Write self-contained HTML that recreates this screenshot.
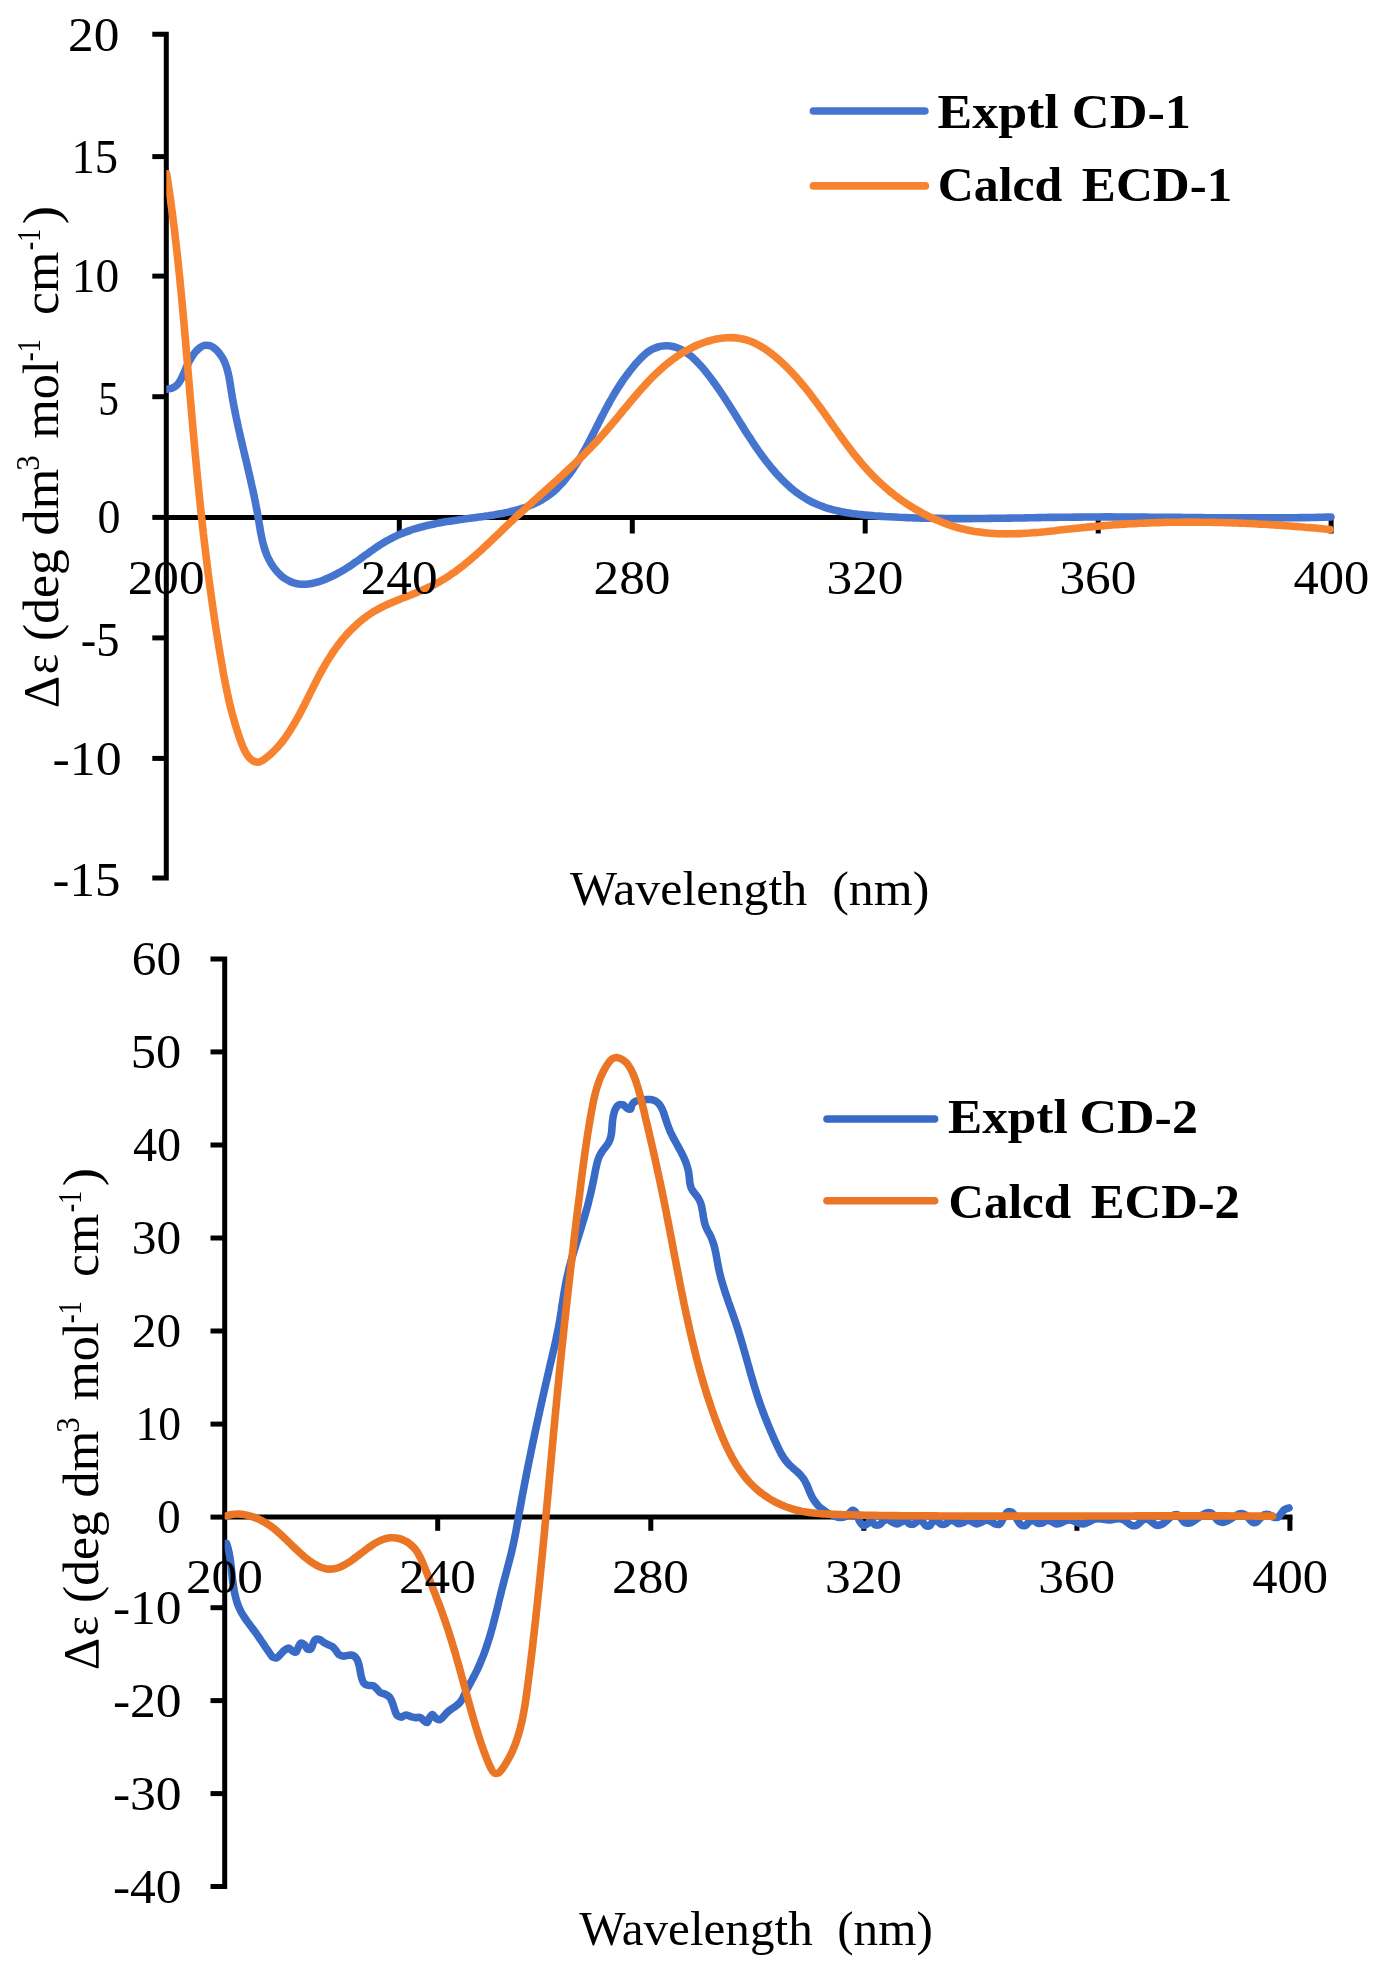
<!DOCTYPE html>
<html><head><meta charset="utf-8"><title>CD spectra</title>
<style>
html,body{margin:0;padding:0;background:#fff;}
body{width:1383px;height:1975px;overflow:hidden;}
svg{display:block;will-change:transform;}
text{font-family:"Liberation Serif", serif;fill:#000;}
</style></head><body>
<svg width="1383" height="1975" viewBox="0 0 1383 1975">
<rect width="1383" height="1975" fill="#fff"/>
<g>
<path d="M152.3,34.3 H166.3 V877.9 H152.3" fill="none" stroke="#000" stroke-width="5"/>
<line x1="152.3" y1="156.6" x2="166.3" y2="156.6" stroke="#000" stroke-width="5"/>
<line x1="152.3" y1="276.1" x2="166.3" y2="276.1" stroke="#000" stroke-width="5"/>
<line x1="152.3" y1="396.7" x2="166.3" y2="396.7" stroke="#000" stroke-width="5"/>
<line x1="152.3" y1="517.4" x2="166.3" y2="517.4" stroke="#000" stroke-width="5"/>
<line x1="152.3" y1="637.9" x2="166.3" y2="637.9" stroke="#000" stroke-width="5"/>
<line x1="152.3" y1="758.4" x2="166.3" y2="758.4" stroke="#000" stroke-width="5"/>
<line x1="166.3" y1="517.4" x2="1333.5" y2="517.4" stroke="#000" stroke-width="5"/>
<line x1="399.3" y1="517.4" x2="399.3" y2="533.5" stroke="#000" stroke-width="5"/>
<line x1="632.3" y1="517.4" x2="632.3" y2="533.5" stroke="#000" stroke-width="5"/>
<line x1="865.2" y1="517.4" x2="865.2" y2="533.5" stroke="#000" stroke-width="5"/>
<line x1="1098.2" y1="517.4" x2="1098.2" y2="533.5" stroke="#000" stroke-width="5"/>
<line x1="1331.1" y1="517.4" x2="1331.1" y2="533.5" stroke="#000" stroke-width="5"/>
<clipPath id="clip166"><rect x="166.30" y="0" width="1216.70" height="1975"/></clipPath>
<g clip-path="url(#clip166)">
<path d="M166.6,389.2 C167.4,389.0 169.9,388.9 171.5,388.3 C173.1,387.8 174.6,386.9 175.9,385.9 C177.2,384.9 178.3,383.6 179.2,382.2 C180.2,380.9 181.0,379.4 181.7,377.9 C182.5,376.4 183.1,374.8 183.8,373.3 C184.5,371.8 185.1,370.2 185.8,368.7 C186.4,367.1 187.1,365.6 187.9,364.1 C188.6,362.6 189.4,361.1 190.2,359.7 C191.1,358.2 191.9,356.8 192.9,355.4 C193.8,354.0 194.8,352.7 195.9,351.4 C197.0,350.2 198.2,348.9 199.5,347.9 C200.9,347.0 202.4,346.0 203.9,345.5 C205.5,345.1 207.3,345.1 208.9,345.4 C210.5,345.8 212.0,346.7 213.4,347.5 C214.8,348.4 216.1,349.6 217.2,350.8 C218.4,352.0 219.4,353.3 220.4,354.7 C221.4,356.0 222.3,357.5 223.1,358.9 C223.9,360.4 224.6,361.9 225.2,363.5 C225.8,365.0 226.4,366.6 226.8,368.2 C227.3,369.8 227.8,371.4 228.1,373.1 C228.5,374.7 228.9,376.3 229.2,378.0 C229.5,379.6 229.8,381.3 230.0,382.9 C230.3,384.6 230.5,386.2 230.8,387.9 C231.1,389.5 231.3,391.2 231.6,392.8 C231.9,394.5 232.1,396.1 232.4,397.8 C232.7,399.4 233.0,401.1 233.3,402.7 C233.6,404.4 233.9,406.0 234.2,407.7 C234.6,409.3 234.9,411.0 235.2,412.6 C235.5,414.2 235.9,415.9 236.2,417.5 C236.6,419.2 236.9,420.8 237.3,422.4 C237.6,424.1 238.0,425.7 238.3,427.3 C238.7,429.0 239.1,430.6 239.4,432.2 C239.8,433.9 240.2,435.5 240.5,437.1 C240.9,438.8 241.3,440.4 241.7,442.0 C242.1,443.7 242.4,445.3 242.8,446.9 C243.2,448.5 243.6,450.2 244.0,451.8 C244.4,453.4 244.7,455.1 245.1,456.7 C245.5,458.3 245.9,459.9 246.3,461.6 C246.7,463.2 247.1,464.8 247.5,466.5 C247.8,468.1 248.2,469.7 248.6,471.3 C249.0,473.0 249.4,474.6 249.7,476.2 C250.1,477.9 250.5,479.5 250.8,481.1 C251.2,482.8 251.6,484.4 251.9,486.0 C252.3,487.7 252.7,489.3 253.0,490.9 C253.4,492.6 253.7,494.2 254.1,495.9 C254.4,497.5 254.7,499.1 255.1,500.8 C255.4,502.4 255.7,504.1 256.0,505.7 C256.3,507.3 256.7,509.0 257.0,510.6 C257.3,512.3 257.6,513.9 257.8,515.6 C258.1,517.2 258.4,518.9 258.7,520.5 C259.0,522.2 259.2,523.8 259.5,525.5 C259.8,527.1 260.1,528.8 260.3,530.4 C260.6,532.1 260.9,533.7 261.3,535.4 C261.6,537.0 261.9,538.6 262.3,540.3 C262.7,541.9 263.1,543.5 263.5,545.1 C264.0,546.8 264.5,548.4 265.0,550.0 C265.5,551.5 266.1,553.1 266.7,554.7 C267.4,556.2 268.0,557.7 268.8,559.2 C269.5,560.7 270.3,562.2 271.2,563.6 C272.1,565.1 273.0,566.5 274.0,567.8 C275.0,569.1 276.1,570.5 277.2,571.7 C278.3,572.9 279.5,574.1 280.7,575.3 C282.0,576.4 283.3,577.4 284.6,578.4 C286.0,579.3 287.5,580.2 289.0,580.9 C290.4,581.7 292.0,582.3 293.6,582.8 C295.2,583.3 296.9,583.7 298.5,583.9 C300.2,584.1 301.8,584.2 303.5,584.2 C305.2,584.2 306.9,584.1 308.5,583.9 C310.2,583.7 311.8,583.4 313.5,583.1 C315.1,582.7 316.7,582.3 318.3,581.8 C319.9,581.3 321.5,580.8 323.1,580.2 C324.7,579.6 326.2,579.0 327.7,578.3 C329.3,577.7 330.8,577.0 332.3,576.2 C333.8,575.5 335.3,574.7 336.8,573.9 C338.2,573.1 339.7,572.3 341.1,571.5 C342.6,570.6 344.0,569.8 345.5,568.9 C346.9,568.0 348.3,567.1 349.7,566.2 C351.1,565.3 352.5,564.3 353.8,563.4 C355.2,562.4 356.6,561.5 358.0,560.5 C359.3,559.5 360.7,558.6 362.0,557.6 C363.4,556.6 364.8,555.6 366.1,554.6 C367.5,553.7 368.8,552.7 370.2,551.7 C371.6,550.7 372.9,549.8 374.3,548.8 C375.7,547.9 377.0,546.9 378.4,546.0 C379.8,545.1 381.2,544.2 382.7,543.3 C384.1,542.4 385.5,541.5 387.0,540.7 C388.4,539.9 389.9,539.1 391.4,538.3 C392.9,537.5 394.4,536.8 395.9,536.1 C397.4,535.4 398.9,534.7 400.5,534.0 C402.0,533.4 403.6,532.8 405.1,532.2 C406.7,531.6 408.3,531.0 409.9,530.5 C411.4,529.9 413.0,529.4 414.6,528.9 C416.2,528.4 417.8,528.0 419.5,527.5 C421.1,527.1 422.7,526.6 424.3,526.2 C425.9,525.8 427.6,525.4 429.2,525.1 C430.8,524.7 432.5,524.3 434.1,524.0 C435.7,523.6 437.4,523.3 439.0,523.0 C440.7,522.7 442.3,522.4 444.0,522.1 C445.6,521.8 447.3,521.5 448.9,521.3 C450.6,521.0 452.2,520.8 453.9,520.5 C455.5,520.3 457.2,520.0 458.8,519.8 C460.5,519.5 462.2,519.3 463.8,519.1 C465.5,518.8 467.1,518.6 468.8,518.4 C470.4,518.2 472.1,518.0 473.8,517.7 C475.4,517.5 477.1,517.3 478.7,517.1 C480.4,516.9 482.1,516.6 483.7,516.4 C485.4,516.2 487.0,515.9 488.7,515.7 C490.3,515.4 492.0,515.2 493.7,514.9 C495.3,514.7 497.0,514.4 498.6,514.1 C500.3,513.8 501.9,513.5 503.5,513.2 C505.2,512.8 506.8,512.5 508.5,512.1 C510.1,511.8 511.7,511.4 513.3,511.0 C515.0,510.6 516.6,510.1 518.2,509.7 C519.8,509.2 521.4,508.7 523.0,508.2 C524.6,507.7 526.2,507.1 527.7,506.5 C529.3,505.9 530.8,505.3 532.4,504.6 C533.9,504.0 535.4,503.3 536.9,502.5 C538.4,501.8 539.9,501.0 541.4,500.2 C542.8,499.3 544.2,498.5 545.6,497.5 C547.0,496.6 548.4,495.6 549.7,494.6 C551.1,493.6 552.4,492.5 553.6,491.5 C554.9,490.4 556.1,489.2 557.3,488.1 C558.5,486.9 559.7,485.7 560.8,484.5 C562.0,483.2 563.1,482.0 564.2,480.7 C565.2,479.4 566.3,478.1 567.3,476.8 C568.4,475.5 569.4,474.2 570.4,472.8 C571.3,471.5 572.3,470.1 573.3,468.7 C574.2,467.3 575.1,465.9 576.0,464.5 C576.9,463.1 577.8,461.7 578.7,460.3 C579.6,458.8 580.4,457.4 581.3,456.0 C582.1,454.5 582.9,453.1 583.7,451.6 C584.6,450.1 585.4,448.7 586.2,447.2 C587.0,445.7 587.8,444.3 588.5,442.8 C589.3,441.3 590.1,439.8 590.9,438.3 C591.6,436.8 592.4,435.3 593.1,433.8 C593.9,432.4 594.7,430.9 595.4,429.4 C596.2,427.9 596.9,426.4 597.7,424.9 C598.4,423.4 599.2,421.9 599.9,420.4 C600.7,418.9 601.5,417.4 602.2,415.9 C603.0,414.4 603.8,413.0 604.5,411.5 C605.3,410.0 606.1,408.5 606.9,407.0 C607.7,405.6 608.5,404.1 609.3,402.6 C610.1,401.2 610.9,399.7 611.8,398.3 C612.6,396.8 613.4,395.4 614.3,393.9 C615.1,392.5 616.0,391.0 616.9,389.6 C617.8,388.2 618.7,386.8 619.6,385.4 C620.5,384.0 621.4,382.6 622.4,381.2 C623.3,379.8 624.3,378.5 625.3,377.1 C626.3,375.8 627.3,374.4 628.3,373.1 C629.3,371.7 630.3,370.4 631.4,369.1 C632.4,367.8 633.5,366.5 634.5,365.2 C635.6,364.0 636.7,362.7 637.8,361.5 C639.0,360.2 640.1,359.0 641.3,357.8 C642.5,356.6 643.7,355.4 644.9,354.4 C646.2,353.3 647.5,352.2 648.9,351.3 C650.3,350.4 651.7,349.5 653.3,348.8 C654.8,348.1 656.3,347.5 657.9,347.0 C659.5,346.5 661.2,346.2 662.9,346.0 C664.5,345.8 666.2,345.7 667.9,345.8 C669.5,345.9 671.2,346.2 672.8,346.5 C674.5,346.9 676.1,347.4 677.6,348.0 C679.2,348.6 680.7,349.3 682.2,350.1 C683.6,350.9 685.1,351.8 686.5,352.7 C687.8,353.7 689.2,354.7 690.5,355.7 C691.8,356.8 693.0,357.9 694.2,359.1 C695.5,360.2 696.7,361.4 697.8,362.6 C699.0,363.8 700.1,365.0 701.2,366.3 C702.3,367.5 703.4,368.8 704.5,370.1 C705.5,371.4 706.6,372.7 707.6,374.0 C708.6,375.3 709.7,376.7 710.7,378.0 C711.7,379.3 712.7,380.7 713.6,382.1 C714.6,383.4 715.6,384.8 716.6,386.1 C717.5,387.5 718.5,388.9 719.4,390.3 C720.4,391.6 721.3,393.0 722.2,394.4 C723.2,395.8 724.1,397.2 725.0,398.6 C725.9,400.0 726.8,401.4 727.7,402.8 C728.6,404.2 729.5,405.6 730.4,407.0 C731.3,408.5 732.2,409.9 733.1,411.3 C734.0,412.7 734.9,414.1 735.8,415.6 C736.7,417.0 737.5,418.4 738.4,419.8 C739.3,421.2 740.2,422.7 741.1,424.1 C742.0,425.5 742.9,426.9 743.7,428.3 C744.6,429.8 745.5,431.2 746.4,432.6 C747.3,434.0 748.2,435.4 749.1,436.8 C750.1,438.2 751.0,439.6 751.9,441.0 C752.8,442.4 753.7,443.8 754.7,445.2 C755.6,446.6 756.6,448.0 757.5,449.3 C758.5,450.7 759.4,452.1 760.4,453.4 C761.4,454.8 762.4,456.1 763.4,457.5 C764.4,458.8 765.4,460.2 766.4,461.5 C767.4,462.8 768.5,464.1 769.5,465.4 C770.6,466.7 771.6,468.0 772.7,469.3 C773.8,470.6 774.9,471.9 776.0,473.1 C777.1,474.4 778.2,475.6 779.4,476.8 C780.5,478.0 781.7,479.2 782.8,480.4 C784.0,481.6 785.2,482.8 786.5,483.9 C787.7,485.1 788.9,486.2 790.2,487.3 C791.5,488.4 792.7,489.5 794.0,490.5 C795.4,491.5 796.7,492.6 798.0,493.5 C799.4,494.5 800.8,495.5 802.2,496.4 C803.6,497.3 805.0,498.2 806.4,499.0 C807.9,499.9 809.4,500.7 810.8,501.5 C812.3,502.2 813.8,502.9 815.4,503.6 C816.9,504.3 818.4,504.9 820.0,505.5 C821.6,506.1 823.1,506.7 824.7,507.3 C826.3,507.8 827.9,508.3 829.5,508.8 C831.1,509.2 832.7,509.7 834.4,510.1 C836.0,510.5 837.6,510.8 839.3,511.2 C840.9,511.6 842.5,511.9 844.2,512.2 C845.8,512.5 847.5,512.8 849.1,513.0 C850.8,513.3 852.4,513.5 854.1,513.8 C855.8,514.0 857.4,514.2 859.1,514.4 C860.7,514.6 862.4,514.7 864.1,514.9 C865.7,515.1 867.4,515.2 869.1,515.4 C870.7,515.5 872.4,515.6 874.1,515.8 C875.7,515.9 877.4,516.0 879.1,516.1 C880.8,516.2 882.4,516.3 884.1,516.5 C885.8,516.6 887.4,516.7 889.1,516.7 C890.8,516.8 892.5,516.9 894.1,517.0 C895.8,517.1 897.5,517.2 899.1,517.3 C900.8,517.3 902.5,517.4 904.2,517.5 C905.8,517.6 907.5,517.6 909.2,517.7 C910.8,517.8 912.5,517.8 914.2,517.9 C915.9,517.9 917.5,518.0 919.2,518.0 C920.9,518.1 922.6,518.1 924.2,518.2 C925.9,518.2 927.6,518.2 929.2,518.3 C930.9,518.3 932.6,518.3 934.3,518.4 C935.9,518.4 937.6,518.4 939.3,518.4 C941.0,518.5 942.6,518.5 944.3,518.5 C946.0,518.5 947.7,518.5 949.3,518.5 C951.0,518.6 952.7,518.6 954.4,518.6 C956.0,518.6 957.7,518.6 959.4,518.6 C961.0,518.6 962.7,518.6 964.4,518.6 C966.1,518.6 967.7,518.6 969.4,518.6 C971.1,518.6 972.8,518.6 974.4,518.5 C976.1,518.5 977.8,518.5 979.5,518.5 C981.1,518.5 982.8,518.5 984.5,518.5 C986.2,518.4 987.8,518.4 989.5,518.4 C991.2,518.4 992.8,518.4 994.5,518.3 C996.2,518.3 997.9,518.3 999.5,518.3 C1001.2,518.3 1002.9,518.2 1004.6,518.2 C1006.2,518.2 1007.9,518.2 1009.6,518.1 C1011.3,518.1 1012.9,518.1 1014.6,518.0 C1016.3,518.0 1017.9,518.0 1019.6,518.0 C1021.3,517.9 1023.0,517.9 1024.6,517.9 C1026.3,517.8 1028.0,517.8 1029.7,517.8 C1031.3,517.8 1033.0,517.7 1034.7,517.7 C1036.4,517.7 1038.0,517.6 1039.7,517.6 C1041.4,517.6 1043.0,517.5 1044.7,517.5 C1046.4,517.5 1048.1,517.5 1049.7,517.4 C1051.4,517.4 1053.1,517.4 1054.8,517.4 C1056.4,517.3 1058.1,517.3 1059.8,517.3 C1061.5,517.3 1063.1,517.2 1064.8,517.2 C1066.5,517.2 1068.2,517.2 1069.8,517.2 C1071.5,517.1 1073.2,517.1 1074.8,517.1 C1076.5,517.1 1078.2,517.1 1079.9,517.1 C1081.5,517.0 1083.2,517.0 1084.9,517.0 C1086.6,517.0 1088.2,517.0 1089.9,517.0 C1091.6,517.0 1093.3,517.0 1094.9,517.0 C1096.6,517.0 1098.3,517.0 1100.0,517.0 C1101.6,516.9 1103.3,516.9 1105.0,516.9 C1106.6,516.9 1108.3,516.9 1110.0,516.9 C1111.7,517.0 1113.3,517.0 1115.0,517.0 C1116.7,517.0 1118.4,517.0 1120.0,517.0 C1121.7,517.0 1123.4,517.0 1125.1,517.0 C1126.7,517.0 1128.4,517.0 1130.1,517.0 C1131.8,517.0 1133.4,517.0 1135.1,517.0 C1136.8,517.1 1138.4,517.1 1140.1,517.1 C1141.8,517.1 1143.5,517.1 1145.1,517.1 C1146.8,517.1 1148.5,517.1 1150.2,517.2 C1151.8,517.2 1153.5,517.2 1155.2,517.2 C1156.9,517.2 1158.5,517.2 1160.2,517.2 C1161.9,517.3 1163.6,517.3 1165.2,517.3 C1166.9,517.3 1168.6,517.3 1170.2,517.3 C1171.9,517.3 1173.6,517.4 1175.3,517.4 C1176.9,517.4 1178.6,517.4 1180.3,517.4 C1182.0,517.4 1183.6,517.5 1185.3,517.5 C1187.0,517.5 1188.7,517.5 1190.3,517.5 C1192.0,517.5 1193.7,517.6 1195.4,517.6 C1197.0,517.6 1198.7,517.6 1200.4,517.6 C1202.0,517.6 1203.7,517.7 1205.4,517.7 C1207.1,517.7 1208.7,517.7 1210.4,517.7 C1212.1,517.7 1213.8,517.7 1215.4,517.8 C1217.1,517.8 1218.8,517.8 1220.5,517.8 C1222.1,517.8 1223.8,517.8 1225.5,517.8 C1227.2,517.8 1228.8,517.9 1230.5,517.9 C1232.2,517.9 1233.8,517.9 1235.5,517.9 C1237.2,517.9 1238.9,517.9 1240.5,517.9 C1242.2,517.9 1243.9,517.9 1245.6,517.9 C1247.2,517.9 1248.9,517.9 1250.6,517.9 C1252.3,517.9 1253.9,517.9 1255.6,517.9 C1257.3,517.9 1259.0,517.9 1260.6,517.9 C1262.3,517.9 1264.0,517.9 1265.6,517.9 C1267.3,517.9 1269.0,517.9 1270.7,517.9 C1272.3,517.9 1274.0,517.9 1275.7,517.9 C1277.4,517.9 1279.0,517.9 1280.7,517.9 C1282.4,517.8 1284.1,517.8 1285.7,517.8 C1287.4,517.8 1289.1,517.8 1290.8,517.8 C1292.4,517.8 1294.1,517.7 1295.8,517.7 C1297.4,517.7 1299.1,517.7 1300.8,517.6 C1302.5,517.6 1304.1,517.6 1305.8,517.6 C1307.5,517.5 1309.2,517.5 1310.8,517.5 C1312.5,517.4 1314.2,517.4 1315.9,517.4 C1317.5,517.3 1319.2,517.3 1320.9,517.3 C1322.5,517.2 1324.2,517.2 1325.9,517.1 C1327.6,517.1 1330.1,517.0 1330.9,517.0" fill="none" stroke="#4575CF" stroke-width="7.6" stroke-linecap="round" stroke-linejoin="round"/>
<path d="M166.7,173.9 C166.8,174.7 167.2,177.2 167.5,178.8 C167.7,180.5 168.0,182.1 168.2,183.8 C168.5,185.4 168.7,187.1 168.9,188.8 C169.2,190.4 169.4,192.1 169.7,193.7 C169.9,195.4 170.1,197.0 170.4,198.7 C170.6,200.3 170.8,202.0 171.0,203.7 C171.3,205.3 171.5,207.0 171.7,208.6 C171.9,210.3 172.2,211.9 172.4,213.6 C172.6,215.3 172.8,216.9 173.0,218.6 C173.2,220.2 173.4,221.9 173.6,223.6 C173.8,225.2 174.1,226.9 174.3,228.5 C174.5,230.2 174.7,231.9 174.9,233.5 C175.1,235.2 175.2,236.8 175.4,238.5 C175.6,240.2 175.8,241.8 176.0,243.5 C176.2,245.1 176.4,246.8 176.6,248.5 C176.8,250.1 177.0,251.8 177.1,253.4 C177.3,255.1 177.5,256.8 177.7,258.4 C177.9,260.1 178.0,261.8 178.2,263.4 C178.4,265.1 178.6,266.7 178.7,268.4 C178.9,270.1 179.1,271.7 179.2,273.4 C179.4,275.1 179.6,276.7 179.8,278.4 C179.9,280.1 180.1,281.7 180.2,283.4 C180.4,285.0 180.6,286.7 180.7,288.4 C180.9,290.0 181.1,291.7 181.2,293.4 C181.4,295.0 181.5,296.7 181.7,298.4 C181.8,300.0 182.0,301.7 182.2,303.4 C182.3,305.0 182.5,306.7 182.6,308.3 C182.8,310.0 182.9,311.7 183.1,313.3 C183.2,315.0 183.4,316.7 183.5,318.3 C183.7,320.0 183.8,321.7 184.0,323.3 C184.1,325.0 184.3,326.7 184.4,328.3 C184.5,330.0 184.7,331.7 184.8,333.3 C185.0,335.0 185.1,336.7 185.3,338.3 C185.4,340.0 185.6,341.7 185.7,343.3 C185.8,345.0 186.0,346.7 186.1,348.3 C186.3,350.0 186.4,351.7 186.5,353.3 C186.7,355.0 186.8,356.7 187.0,358.3 C187.1,360.0 187.2,361.7 187.4,363.3 C187.5,365.0 187.7,366.7 187.8,368.3 C187.9,370.0 188.1,371.7 188.2,373.3 C188.4,375.0 188.5,376.6 188.6,378.3 C188.8,380.0 188.9,381.6 189.1,383.3 C189.2,385.0 189.3,386.6 189.5,388.3 C189.6,390.0 189.8,391.6 189.9,393.3 C190.0,395.0 190.2,396.6 190.3,398.3 C190.5,400.0 190.6,401.6 190.8,403.3 C190.9,405.0 191.0,406.6 191.2,408.3 C191.3,410.0 191.5,411.6 191.6,413.3 C191.8,415.0 191.9,416.6 192.1,418.3 C192.2,420.0 192.3,421.6 192.5,423.3 C192.6,425.0 192.8,426.6 192.9,428.3 C193.1,430.0 193.2,431.6 193.4,433.3 C193.5,435.0 193.7,436.6 193.8,438.3 C194.0,440.0 194.1,441.6 194.3,443.3 C194.4,444.9 194.6,446.6 194.7,448.3 C194.9,449.9 195.0,451.6 195.2,453.3 C195.3,454.9 195.5,456.6 195.7,458.3 C195.8,459.9 196.0,461.6 196.1,463.3 C196.3,464.9 196.4,466.6 196.6,468.3 C196.8,469.9 196.9,471.6 197.1,473.2 C197.2,474.9 197.4,476.6 197.6,478.2 C197.7,479.9 197.9,481.6 198.1,483.2 C198.2,484.9 198.4,486.6 198.6,488.2 C198.7,489.9 198.9,491.5 199.1,493.2 C199.2,494.9 199.4,496.5 199.6,498.2 C199.7,499.9 199.9,501.5 200.1,503.2 C200.3,504.9 200.4,506.5 200.6,508.2 C200.8,509.8 201.0,511.5 201.1,513.2 C201.3,514.8 201.5,516.5 201.7,518.2 C201.9,519.8 202.0,521.5 202.2,523.1 C202.4,524.8 202.6,526.5 202.8,528.1 C203.0,529.8 203.2,531.5 203.3,533.1 C203.5,534.8 203.7,536.4 203.9,538.1 C204.1,539.8 204.3,541.4 204.5,543.1 C204.7,544.7 204.9,546.4 205.1,548.1 C205.3,549.7 205.5,551.4 205.7,553.0 C205.9,554.7 206.1,556.4 206.3,558.0 C206.5,559.7 206.7,561.3 206.9,563.0 C207.1,564.7 207.3,566.3 207.5,568.0 C207.7,569.6 207.9,571.3 208.1,573.0 C208.4,574.6 208.6,576.3 208.8,577.9 C209.0,579.6 209.2,581.2 209.4,582.9 C209.7,584.6 209.9,586.2 210.1,587.9 C210.3,589.5 210.6,591.2 210.8,592.8 C211.0,594.5 211.2,596.2 211.5,597.8 C211.7,599.5 211.9,601.1 212.2,602.8 C212.4,604.4 212.6,606.1 212.9,607.7 C213.1,609.4 213.3,611.1 213.6,612.7 C213.8,614.4 214.1,616.0 214.3,617.7 C214.6,619.3 214.8,621.0 215.1,622.6 C215.3,624.3 215.6,625.9 215.8,627.6 C216.1,629.2 216.3,630.9 216.6,632.5 C216.8,634.2 217.1,635.9 217.4,637.5 C217.6,639.2 217.9,640.8 218.2,642.5 C218.4,644.1 218.7,645.8 219.0,647.4 C219.2,649.1 219.5,650.7 219.8,652.4 C220.1,654.0 220.4,655.7 220.6,657.3 C220.9,658.9 221.2,660.6 221.5,662.2 C221.8,663.9 222.1,665.5 222.4,667.2 C222.6,668.8 222.9,670.5 223.2,672.1 C223.5,673.8 223.8,675.4 224.1,677.1 C224.4,678.7 224.8,680.3 225.1,682.0 C225.4,683.6 225.7,685.3 226.0,686.9 C226.4,688.5 226.7,690.2 227.1,691.8 C227.4,693.5 227.8,695.1 228.1,696.7 C228.5,698.4 228.8,700.0 229.2,701.6 C229.6,703.2 230.0,704.9 230.4,706.5 C230.8,708.1 231.2,709.7 231.6,711.4 C232.0,713.0 232.5,714.6 232.9,716.2 C233.3,717.8 233.8,719.4 234.3,721.0 C234.7,722.6 235.2,724.2 235.7,725.8 C236.2,727.4 236.7,729.0 237.2,730.6 C237.7,732.2 238.2,733.8 238.7,735.4 C239.3,737.0 239.8,738.6 240.4,740.1 C240.9,741.7 241.5,743.3 242.1,744.8 C242.8,746.4 243.4,747.9 244.1,749.4 C244.9,750.9 245.6,752.4 246.5,753.8 C247.4,755.3 248.4,756.7 249.5,757.9 C250.7,759.1 251.9,760.3 253.4,761.0 C254.8,761.7 256.6,762.3 258.2,762.2 C259.8,762.0 261.4,761.1 262.8,760.3 C264.3,759.5 265.5,758.4 266.9,757.3 C268.2,756.3 269.4,755.2 270.7,754.1 C271.9,753.0 273.1,751.8 274.3,750.6 C275.5,749.5 276.6,748.2 277.8,747.0 C278.9,745.7 279.9,744.5 281.0,743.2 C282.1,741.9 283.1,740.6 284.1,739.2 C285.1,737.9 286.1,736.5 287.0,735.1 C288.0,733.8 288.9,732.4 289.8,731.0 C290.7,729.6 291.6,728.1 292.4,726.7 C293.3,725.3 294.2,723.8 295.0,722.4 C295.8,720.9 296.7,719.5 297.5,718.0 C298.3,716.6 299.1,715.1 299.9,713.6 C300.6,712.1 301.4,710.7 302.2,709.2 C303.0,707.7 303.7,706.2 304.5,704.7 C305.2,703.2 306.0,701.7 306.7,700.2 C307.5,698.7 308.2,697.2 309.0,695.7 C309.7,694.2 310.4,692.7 311.2,691.2 C311.9,689.7 312.7,688.2 313.4,686.8 C314.2,685.3 314.9,683.8 315.7,682.3 C316.4,680.8 317.2,679.3 318.0,677.8 C318.8,676.3 319.5,674.9 320.3,673.4 C321.1,671.9 321.9,670.4 322.7,669.0 C323.5,667.5 324.4,666.1 325.2,664.6 C326.1,663.2 326.9,661.7 327.8,660.3 C328.7,658.9 329.5,657.5 330.5,656.1 C331.4,654.7 332.3,653.3 333.2,651.9 C334.2,650.5 335.1,649.1 336.1,647.8 C337.1,646.4 338.1,645.1 339.1,643.7 C340.1,642.4 341.1,641.1 342.2,639.8 C343.2,638.5 344.3,637.2 345.4,636.0 C346.5,634.7 347.6,633.5 348.8,632.2 C349.9,631.0 351.1,629.8 352.3,628.6 C353.4,627.5 354.7,626.3 355.9,625.2 C357.1,624.0 358.4,622.9 359.6,621.8 C360.9,620.8 362.2,619.7 363.5,618.7 C364.9,617.7 366.2,616.7 367.6,615.7 C368.9,614.7 370.3,613.8 371.7,612.9 C373.1,612.0 374.6,611.1 376.0,610.3 C377.5,609.5 378.9,608.7 380.4,607.9 C381.9,607.1 383.4,606.4 384.9,605.6 C386.4,604.9 387.9,604.2 389.5,603.6 C391.0,602.9 392.5,602.2 394.1,601.6 C395.6,600.9 397.2,600.3 398.7,599.7 C400.3,599.0 401.8,598.4 403.4,597.8 C404.9,597.2 406.5,596.6 408.0,596.0 C409.6,595.4 411.2,594.8 412.7,594.1 C414.3,593.5 415.8,592.9 417.4,592.3 C418.9,591.6 420.5,591.0 422.0,590.3 C423.5,589.7 425.1,589.0 426.6,588.3 C428.1,587.6 429.6,586.9 431.1,586.2 C432.6,585.4 434.1,584.7 435.6,583.9 C437.0,583.1 438.5,582.3 440.0,581.4 C441.4,580.6 442.8,579.7 444.3,578.9 C445.7,578.0 447.1,577.1 448.5,576.2 C449.9,575.2 451.3,574.3 452.6,573.3 C454.0,572.4 455.4,571.4 456.7,570.4 C458.1,569.4 459.4,568.4 460.7,567.4 C462.1,566.4 463.4,565.4 464.7,564.3 C466.0,563.3 467.3,562.2 468.6,561.1 C469.8,560.1 471.1,559.0 472.4,557.9 C473.6,556.8 474.9,555.7 476.2,554.6 C477.4,553.5 478.7,552.4 479.9,551.2 C481.1,550.1 482.4,549.0 483.6,547.9 C484.8,546.7 486.0,545.6 487.3,544.4 C488.5,543.3 489.7,542.1 490.9,541.0 C492.1,539.8 493.3,538.7 494.5,537.5 C495.7,536.4 497.0,535.2 498.2,534.1 C499.4,532.9 500.6,531.7 501.8,530.6 C503.0,529.4 504.2,528.3 505.4,527.1 C506.6,526.0 507.8,524.8 509.0,523.6 C510.2,522.5 511.5,521.4 512.7,520.2 C513.9,519.1 515.1,517.9 516.3,516.8 C517.6,515.6 518.8,514.5 520.0,513.4 C521.3,512.3 522.5,511.1 523.7,510.0 C525.0,508.9 526.2,507.7 527.4,506.6 C528.7,505.5 529.9,504.4 531.2,503.3 C532.4,502.1 533.6,501.0 534.9,499.9 C536.1,498.8 537.4,497.7 538.6,496.6 C539.9,495.4 541.1,494.3 542.4,493.2 C543.6,492.1 544.9,491.0 546.1,489.9 C547.3,488.7 548.6,487.6 549.8,486.5 C551.1,485.4 552.3,484.3 553.6,483.1 C554.8,482.0 556.0,480.9 557.3,479.8 C558.5,478.7 559.7,477.5 561.0,476.4 C562.2,475.3 563.4,474.1 564.7,473.0 C565.9,471.9 567.1,470.7 568.3,469.6 C569.6,468.4 570.8,467.3 572.0,466.1 C573.2,465.0 574.4,463.8 575.6,462.7 C576.8,461.5 578.0,460.4 579.2,459.2 C580.4,458.0 581.6,456.9 582.8,455.7 C584.0,454.5 585.2,453.3 586.3,452.1 C587.5,450.9 588.7,449.8 589.9,448.6 C591.0,447.4 592.2,446.1 593.3,444.9 C594.5,443.7 595.6,442.5 596.8,441.3 C597.9,440.1 599.0,438.8 600.2,437.6 C601.3,436.4 602.4,435.1 603.5,433.9 C604.6,432.6 605.7,431.3 606.8,430.1 C607.9,428.8 609.0,427.5 610.1,426.3 C611.2,425.0 612.2,423.7 613.3,422.4 C614.4,421.2 615.5,419.9 616.5,418.6 C617.6,417.3 618.7,416.0 619.7,414.7 C620.8,413.4 621.8,412.1 622.9,410.8 C624.0,409.5 625.0,408.3 626.1,407.0 C627.2,405.7 628.2,404.4 629.3,403.1 C630.4,401.8 631.4,400.5 632.5,399.3 C633.6,398.0 634.7,396.7 635.8,395.4 C636.9,394.2 637.9,392.9 639.0,391.6 C640.1,390.4 641.3,389.1 642.4,387.9 C643.5,386.6 644.6,385.4 645.8,384.2 C646.9,383.0 648.0,381.7 649.2,380.5 C650.3,379.3 651.5,378.1 652.7,376.9 C653.9,375.8 655.1,374.6 656.3,373.4 C657.5,372.3 658.7,371.1 659.9,370.0 C661.2,368.9 662.4,367.8 663.7,366.7 C665.0,365.6 666.2,364.5 667.5,363.5 C668.8,362.4 670.1,361.4 671.5,360.4 C672.8,359.3 674.2,358.4 675.5,357.4 C676.9,356.4 678.3,355.5 679.7,354.6 C681.1,353.7 682.5,352.8 683.9,351.9 C685.4,351.1 686.8,350.3 688.3,349.5 C689.8,348.7 691.3,347.9 692.8,347.2 C694.3,346.4 695.8,345.7 697.3,345.1 C698.9,344.4 700.4,343.8 702.0,343.2 C703.5,342.6 705.1,342.1 706.7,341.6 C708.3,341.0 709.9,340.6 711.5,340.2 C713.2,339.7 714.8,339.4 716.4,339.0 C718.1,338.7 719.7,338.4 721.4,338.2 C723.0,338.0 724.7,337.8 726.4,337.7 C728.0,337.6 729.7,337.6 731.4,337.6 C733.0,337.7 734.7,337.8 736.4,337.9 C738.0,338.1 739.7,338.4 741.3,338.7 C743.0,339.0 744.6,339.4 746.2,339.9 C747.8,340.4 749.4,340.9 750.9,341.5 C752.5,342.1 754.0,342.8 755.5,343.5 C757.0,344.3 758.5,345.0 760.0,345.9 C761.4,346.7 762.9,347.6 764.3,348.5 C765.7,349.4 767.1,350.3 768.4,351.3 C769.8,352.3 771.1,353.3 772.4,354.3 C773.7,355.4 775.0,356.4 776.3,357.5 C777.6,358.6 778.8,359.7 780.1,360.8 C781.3,361.9 782.5,363.1 783.7,364.2 C784.9,365.4 786.1,366.6 787.3,367.8 C788.5,368.9 789.6,370.1 790.8,371.4 C791.9,372.6 793.1,373.8 794.2,375.0 C795.3,376.3 796.5,377.5 797.6,378.8 C798.7,380.0 799.7,381.3 800.8,382.6 C801.9,383.8 803.0,385.1 804.0,386.4 C805.1,387.7 806.2,389.0 807.2,390.3 C808.2,391.6 809.3,392.9 810.3,394.3 C811.3,395.6 812.3,396.9 813.3,398.3 C814.3,399.6 815.3,400.9 816.3,402.3 C817.3,403.6 818.3,405.0 819.3,406.3 C820.3,407.7 821.3,409.0 822.3,410.4 C823.2,411.7 824.2,413.1 825.2,414.4 C826.1,415.8 827.1,417.2 828.1,418.5 C829.0,419.9 830.0,421.3 831.0,422.6 C831.9,424.0 832.9,425.4 833.9,426.7 C834.8,428.1 835.8,429.5 836.8,430.8 C837.7,432.2 838.7,433.5 839.7,434.9 C840.7,436.3 841.6,437.6 842.6,439.0 C843.6,440.3 844.6,441.7 845.6,443.0 C846.6,444.4 847.6,445.7 848.6,447.0 C849.6,448.4 850.6,449.7 851.6,451.0 C852.6,452.4 853.7,453.7 854.7,455.0 C855.8,456.3 856.8,457.6 857.9,458.9 C858.9,460.2 860.0,461.5 861.1,462.7 C862.1,464.0 863.2,465.3 864.3,466.5 C865.4,467.8 866.6,469.0 867.7,470.3 C868.8,471.5 870.0,472.7 871.1,473.9 C872.3,475.2 873.4,476.3 874.6,477.5 C875.8,478.7 877.0,479.9 878.2,481.0 C879.4,482.2 880.7,483.3 881.9,484.4 C883.1,485.6 884.4,486.7 885.7,487.8 C886.9,488.9 888.2,489.9 889.5,491.0 C890.8,492.1 892.1,493.1 893.4,494.1 C894.7,495.2 896.0,496.2 897.4,497.2 C898.7,498.2 900.1,499.2 901.4,500.1 C902.8,501.1 904.2,502.1 905.6,503.0 C907.0,503.9 908.4,504.8 909.8,505.7 C911.2,506.6 912.6,507.5 914.0,508.4 C915.5,509.2 916.9,510.1 918.4,510.9 C919.8,511.7 921.3,512.5 922.7,513.3 C924.2,514.1 925.7,514.9 927.2,515.6 C928.7,516.4 930.2,517.1 931.7,517.8 C933.2,518.5 934.8,519.2 936.3,519.9 C937.8,520.5 939.4,521.2 940.9,521.8 C942.5,522.4 944.0,523.0 945.6,523.6 C947.2,524.2 948.8,524.7 950.3,525.3 C951.9,525.8 953.5,526.3 955.1,526.8 C956.7,527.3 958.3,527.7 959.9,528.2 C961.6,528.6 963.2,529.0 964.8,529.4 C966.4,529.8 968.1,530.1 969.7,530.5 C971.3,530.8 973.0,531.1 974.6,531.4 C976.3,531.7 977.9,531.9 979.6,532.1 C981.3,532.4 982.9,532.6 984.6,532.7 C986.2,532.9 987.9,533.1 989.6,533.2 C991.2,533.3 992.9,533.4 994.6,533.5 C996.2,533.6 997.9,533.7 999.6,533.7 C1001.3,533.8 1002.9,533.8 1004.6,533.8 C1006.3,533.9 1007.9,533.9 1009.6,533.8 C1011.3,533.8 1013.0,533.8 1014.6,533.7 C1016.3,533.7 1018.0,533.6 1019.6,533.6 C1021.3,533.5 1023.0,533.4 1024.7,533.3 C1026.3,533.2 1028.0,533.1 1029.7,533.0 C1031.3,532.9 1033.0,532.7 1034.7,532.6 C1036.3,532.5 1038.0,532.3 1039.7,532.2 C1041.3,532.0 1043.0,531.8 1044.7,531.7 C1046.3,531.5 1048.0,531.4 1049.6,531.2 C1051.3,531.0 1053.0,530.8 1054.6,530.7 C1056.3,530.5 1058.0,530.3 1059.6,530.1 C1061.3,529.9 1062.9,529.7 1064.6,529.5 C1066.3,529.4 1067.9,529.2 1069.6,529.0 C1071.2,528.8 1072.9,528.6 1074.6,528.4 C1076.2,528.3 1077.9,528.1 1079.6,527.9 C1081.2,527.7 1082.9,527.5 1084.5,527.4 C1086.2,527.2 1087.9,527.0 1089.5,526.9 C1091.2,526.7 1092.9,526.6 1094.5,526.4 C1096.2,526.3 1097.9,526.1 1099.5,526.0 C1101.2,525.8 1102.9,525.7 1104.5,525.6 C1106.2,525.4 1107.9,525.3 1109.5,525.2 C1111.2,525.0 1112.9,524.9 1114.5,524.8 C1116.2,524.7 1117.9,524.6 1119.5,524.4 C1121.2,524.3 1122.9,524.2 1124.5,524.1 C1126.2,524.0 1127.9,523.9 1129.5,523.8 C1131.2,523.7 1132.9,523.6 1134.6,523.6 C1136.2,523.5 1137.9,523.4 1139.6,523.3 C1141.2,523.2 1142.9,523.2 1144.6,523.1 C1146.2,523.0 1147.9,523.0 1149.6,522.9 C1151.3,522.8 1152.9,522.8 1154.6,522.7 C1156.3,522.7 1157.9,522.6 1159.6,522.6 C1161.3,522.5 1163.0,522.5 1164.6,522.4 C1166.3,522.4 1168.0,522.4 1169.6,522.3 C1171.3,522.3 1173.0,522.3 1174.7,522.2 C1176.3,522.2 1178.0,522.2 1179.7,522.2 C1181.4,522.2 1183.0,522.2 1184.7,522.1 C1186.4,522.1 1188.0,522.1 1189.7,522.1 C1191.4,522.1 1193.1,522.1 1194.7,522.1 C1196.4,522.1 1198.1,522.1 1199.7,522.2 C1201.4,522.2 1203.1,522.2 1204.8,522.2 C1206.4,522.2 1208.1,522.3 1209.8,522.3 C1211.4,522.3 1213.1,522.3 1214.8,522.4 C1216.5,522.4 1218.1,522.4 1219.8,522.5 C1221.5,522.5 1223.1,522.6 1224.8,522.6 C1226.5,522.7 1228.2,522.7 1229.8,522.8 C1231.5,522.8 1233.2,522.9 1234.8,522.9 C1236.5,523.0 1238.2,523.0 1239.9,523.1 C1241.5,523.2 1243.2,523.2 1244.9,523.3 C1246.5,523.4 1248.2,523.5 1249.9,523.5 C1251.6,523.6 1253.2,523.7 1254.9,523.8 C1256.6,523.9 1258.2,524.0 1259.9,524.1 C1261.6,524.1 1263.2,524.2 1264.9,524.3 C1266.6,524.4 1268.2,524.5 1269.9,524.6 C1271.6,524.7 1273.3,524.8 1274.9,524.9 C1276.6,525.1 1278.3,525.2 1279.9,525.3 C1281.6,525.4 1283.3,525.5 1284.9,525.6 C1286.6,525.7 1288.3,525.9 1289.9,526.0 C1291.6,526.1 1293.3,526.2 1294.9,526.4 C1296.6,526.5 1298.3,526.6 1299.9,526.8 C1301.6,526.9 1303.3,527.0 1304.9,527.2 C1306.6,527.3 1308.3,527.5 1309.9,527.6 C1311.6,527.7 1313.3,527.9 1314.9,528.0 C1316.6,528.2 1318.3,528.3 1319.9,528.5 C1321.6,528.7 1323.3,528.8 1324.9,529.0 C1326.6,529.1 1329.1,529.4 1329.9,529.5" fill="none" stroke="#F7832F" stroke-width="7.6" stroke-linecap="round" stroke-linejoin="round"/>
</g>
<line x1="813.4" y1="111.0" x2="924.9" y2="111.0" stroke="#4575CF" stroke-width="7.6" stroke-linecap="round"/>
<line x1="813.4" y1="185.9" x2="925.4" y2="185.9" stroke="#F7832F" stroke-width="7.6" stroke-linecap="round"/>
<path d="M210.5,958.9 H224.7 V1886.5 H210.5" fill="none" stroke="#000" stroke-width="5"/>
<line x1="210.5" y1="1051.9" x2="224.7" y2="1051.9" stroke="#000" stroke-width="5"/>
<line x1="210.5" y1="1145.0" x2="224.7" y2="1145.0" stroke="#000" stroke-width="5"/>
<line x1="210.5" y1="1238.0" x2="224.7" y2="1238.0" stroke="#000" stroke-width="5"/>
<line x1="210.5" y1="1331.0" x2="224.7" y2="1331.0" stroke="#000" stroke-width="5"/>
<line x1="210.5" y1="1424.1" x2="224.7" y2="1424.1" stroke="#000" stroke-width="5"/>
<line x1="210.5" y1="1517.1" x2="224.7" y2="1517.1" stroke="#000" stroke-width="5"/>
<line x1="210.5" y1="1607.7" x2="224.7" y2="1607.7" stroke="#000" stroke-width="5"/>
<line x1="210.5" y1="1700.6" x2="224.7" y2="1700.6" stroke="#000" stroke-width="5"/>
<line x1="210.5" y1="1793.6" x2="224.7" y2="1793.6" stroke="#000" stroke-width="5"/>
<line x1="224.7" y1="1517.1" x2="1292.5" y2="1517.1" stroke="#000" stroke-width="5"/>
<line x1="437.7" y1="1517.1" x2="437.7" y2="1530.8" stroke="#000" stroke-width="5"/>
<line x1="650.8" y1="1517.1" x2="650.8" y2="1530.8" stroke="#000" stroke-width="5"/>
<line x1="863.8" y1="1517.1" x2="863.8" y2="1530.8" stroke="#000" stroke-width="5"/>
<line x1="1076.9" y1="1517.1" x2="1076.9" y2="1530.8" stroke="#000" stroke-width="5"/>
<line x1="1289.9" y1="1517.1" x2="1289.9" y2="1530.8" stroke="#000" stroke-width="5"/>
<clipPath id="clip224"><rect x="224.65" y="0" width="1158.35" height="1975"/></clipPath>
<g clip-path="url(#clip224)">
<path d="M226.5,1543.3 C226.8,1544.1 227.5,1546.5 228.0,1548.1 C228.4,1549.7 228.7,1551.3 229.1,1553.0 C229.4,1554.6 229.7,1556.3 230.0,1557.9 C230.2,1559.6 230.4,1561.2 230.7,1562.9 C230.9,1564.6 231.1,1566.2 231.3,1567.9 C231.4,1569.5 231.6,1571.2 231.8,1572.9 C232.0,1574.5 232.2,1576.2 232.3,1577.9 C232.5,1579.5 232.7,1581.2 233.0,1582.9 C233.2,1584.5 233.4,1586.2 233.7,1587.8 C233.9,1589.5 234.2,1591.1 234.6,1592.8 C234.9,1594.4 235.3,1596.0 235.7,1597.7 C236.1,1599.3 236.6,1600.9 237.1,1602.5 C237.6,1604.1 238.2,1605.6 238.8,1607.2 C239.5,1608.7 240.2,1610.2 241.0,1611.7 C241.8,1613.2 242.7,1614.6 243.6,1616.0 C244.5,1617.5 245.4,1618.8 246.4,1620.2 C247.4,1621.6 248.4,1622.9 249.4,1624.2 C250.4,1625.6 251.4,1626.9 252.4,1628.2 C253.4,1629.6 254.4,1630.9 255.4,1632.3 C256.4,1633.6 257.3,1635.0 258.3,1636.4 C259.2,1637.8 260.1,1639.2 261.1,1640.6 C262.0,1641.9 262.9,1643.3 263.9,1644.7 C264.8,1646.1 265.7,1647.5 266.7,1648.9 C267.6,1650.3 268.6,1651.6 269.6,1653.0 C270.6,1654.3 271.4,1656.2 272.6,1657.0 C273.9,1657.7 275.7,1658.1 277.0,1657.6 C278.4,1657.1 279.5,1655.3 280.7,1654.1 C281.9,1652.9 282.9,1651.5 284.2,1650.5 C285.5,1649.5 287.1,1648.0 288.5,1648.1 C289.9,1648.2 291.1,1650.2 292.4,1650.9 C293.6,1651.6 295.0,1652.7 296.0,1652.1 C297.0,1651.6 297.4,1649.1 298.2,1647.6 C299.0,1646.1 299.5,1643.7 300.6,1643.2 C301.6,1642.7 303.3,1643.8 304.5,1644.7 C305.6,1645.6 306.2,1648.2 307.3,1648.9 C308.4,1649.5 310.0,1649.5 311.0,1648.7 C311.9,1647.9 312.2,1645.6 312.9,1644.1 C313.6,1642.6 314.1,1640.4 315.3,1639.6 C316.4,1638.9 318.3,1639.1 319.8,1639.6 C321.2,1640.1 322.4,1641.6 323.9,1642.5 C325.3,1643.3 326.8,1644.0 328.3,1644.8 C329.8,1645.5 331.5,1645.9 332.9,1646.9 C334.2,1647.9 335.1,1649.4 336.1,1650.7 C337.2,1652.0 337.9,1653.8 339.1,1654.7 C340.4,1655.6 342.2,1656.1 343.7,1656.2 C345.3,1656.3 347.0,1655.3 348.7,1655.2 C350.3,1655.1 352.2,1655.0 353.6,1655.7 C355.0,1656.3 356.1,1657.9 357.0,1659.3 C357.8,1660.6 358.2,1662.4 358.7,1664.0 C359.2,1665.6 359.5,1667.2 359.8,1668.9 C360.1,1670.5 360.4,1672.2 360.7,1673.8 C361.1,1675.4 361.3,1677.1 361.9,1678.7 C362.4,1680.2 362.9,1682.1 364.0,1683.2 C365.1,1684.3 366.7,1685.0 368.3,1685.4 C369.8,1685.8 371.8,1685.1 373.3,1685.7 C374.7,1686.3 375.8,1687.9 377.0,1689.0 C378.1,1690.2 379.1,1691.7 380.4,1692.6 C381.8,1693.5 383.7,1693.5 385.2,1694.2 C386.7,1694.9 388.2,1695.7 389.3,1696.9 C390.4,1698.1 391.1,1699.7 391.8,1701.2 C392.5,1702.7 392.9,1704.4 393.5,1706.0 C394.0,1707.5 394.4,1709.2 395.0,1710.7 C395.6,1712.3 396.0,1714.3 397.0,1715.3 C398.1,1716.4 399.8,1717.2 401.2,1717.2 C402.7,1717.1 404.2,1715.2 405.8,1715.1 C407.3,1715.0 408.9,1716.1 410.5,1716.5 C412.1,1716.9 413.7,1717.5 415.3,1717.6 C416.9,1717.8 418.9,1717.0 420.3,1717.5 C421.8,1718.0 422.8,1719.9 424.0,1720.7 C425.2,1721.5 426.4,1722.9 427.4,1722.5 C428.3,1722.0 428.6,1719.2 429.4,1717.9 C430.3,1716.6 431.4,1714.5 432.5,1714.5 C433.6,1714.6 434.6,1717.4 435.9,1718.2 C437.1,1719.1 438.8,1719.9 440.2,1719.5 C441.5,1719.2 442.6,1717.3 443.8,1716.1 C445.0,1714.9 446.0,1713.6 447.2,1712.4 C448.5,1711.3 449.8,1710.3 451.1,1709.3 C452.5,1708.3 453.9,1707.5 455.3,1706.5 C456.6,1705.5 458.0,1704.5 459.2,1703.3 C460.3,1702.1 461.3,1700.7 462.2,1699.3 C463.0,1697.8 463.6,1696.3 464.4,1694.8 C465.1,1693.3 465.8,1691.7 466.6,1690.3 C467.3,1688.8 468.1,1687.3 468.9,1685.8 C469.7,1684.3 470.5,1682.8 471.3,1681.4 C472.1,1679.9 472.8,1678.4 473.6,1676.9 C474.4,1675.4 475.2,1674.0 475.9,1672.5 C476.7,1671.0 477.4,1669.5 478.1,1667.9 C478.8,1666.4 479.5,1664.9 480.1,1663.3 C480.8,1661.8 481.4,1660.3 482.0,1658.7 C482.7,1657.2 483.3,1655.6 483.9,1654.0 C484.4,1652.5 485.0,1650.9 485.6,1649.3 C486.1,1647.7 486.7,1646.1 487.2,1644.5 C487.7,1643.0 488.2,1641.4 488.7,1639.8 C489.2,1638.2 489.7,1636.6 490.2,1635.0 C490.7,1633.3 491.1,1631.7 491.6,1630.1 C492.0,1628.5 492.5,1626.9 492.9,1625.3 C493.3,1623.7 493.8,1622.1 494.2,1620.4 C494.6,1618.8 495.0,1617.2 495.4,1615.6 C495.8,1613.9 496.3,1612.3 496.7,1610.7 C497.1,1609.1 497.5,1607.4 497.9,1605.8 C498.3,1604.2 498.7,1602.6 499.0,1600.9 C499.4,1599.3 499.8,1597.7 500.2,1596.1 C500.6,1594.4 501.0,1592.8 501.4,1591.2 C501.8,1589.6 502.2,1587.9 502.7,1586.3 C503.1,1584.7 503.5,1583.1 503.9,1581.4 C504.3,1579.8 504.8,1578.2 505.2,1576.6 C505.6,1575.0 506.0,1573.4 506.5,1571.7 C506.9,1570.1 507.3,1568.5 507.7,1566.9 C508.2,1565.3 508.6,1563.6 509.0,1562.0 C509.4,1560.4 509.9,1558.8 510.3,1557.2 C510.7,1555.5 511.1,1553.9 511.5,1552.3 C511.9,1550.6 512.2,1549.0 512.6,1547.4 C513.0,1545.8 513.4,1544.1 513.7,1542.5 C514.1,1540.8 514.4,1539.2 514.7,1537.6 C515.0,1535.9 515.4,1534.3 515.7,1532.6 C516.0,1531.0 516.3,1529.3 516.6,1527.7 C516.9,1526.0 517.2,1524.4 517.5,1522.7 C517.8,1521.1 518.0,1519.5 518.3,1517.8 C518.6,1516.2 518.9,1514.5 519.2,1512.9 C519.5,1511.2 519.8,1509.6 520.1,1507.9 C520.4,1506.3 520.7,1504.6 521.0,1503.0 C521.3,1501.3 521.6,1499.7 521.9,1498.0 C522.2,1496.4 522.5,1494.7 522.8,1493.1 C523.1,1491.5 523.5,1489.8 523.8,1488.2 C524.1,1486.5 524.4,1484.9 524.7,1483.2 C525.0,1481.6 525.4,1479.9 525.7,1478.3 C526.0,1476.7 526.3,1475.0 526.6,1473.4 C527.0,1471.7 527.3,1470.1 527.6,1468.4 C527.9,1466.8 528.3,1465.2 528.6,1463.5 C528.9,1461.9 529.3,1460.2 529.6,1458.6 C529.9,1457.0 530.3,1455.3 530.6,1453.7 C530.9,1452.0 531.3,1450.4 531.6,1448.8 C532.0,1447.1 532.3,1445.5 532.6,1443.8 C533.0,1442.2 533.3,1440.6 533.7,1438.9 C534.0,1437.3 534.4,1435.7 534.7,1434.0 C535.1,1432.4 535.4,1430.7 535.8,1429.1 C536.1,1427.5 536.5,1425.8 536.8,1424.2 C537.2,1422.6 537.5,1420.9 537.9,1419.3 C538.2,1417.6 538.6,1416.0 539.0,1414.4 C539.3,1412.7 539.7,1411.1 540.0,1409.5 C540.4,1407.8 540.8,1406.2 541.1,1404.6 C541.5,1402.9 541.9,1401.3 542.2,1399.7 C542.6,1398.0 542.9,1396.4 543.3,1394.8 C543.7,1393.1 544.1,1391.5 544.4,1389.9 C544.8,1388.2 545.2,1386.6 545.5,1385.0 C545.9,1383.3 546.3,1381.7 546.7,1380.1 C547.0,1378.4 547.4,1376.8 547.8,1375.2 C548.2,1373.5 548.5,1371.9 548.9,1370.3 C549.3,1368.7 549.7,1367.0 550.0,1365.4 C550.4,1363.8 550.8,1362.1 551.2,1360.5 C551.6,1358.9 552.0,1357.2 552.3,1355.6 C552.7,1354.0 553.1,1352.4 553.5,1350.7 C553.8,1349.1 554.2,1347.5 554.6,1345.8 C555.0,1344.2 555.3,1342.6 555.7,1340.9 C556.0,1339.3 556.4,1337.7 556.7,1336.0 C557.1,1334.4 557.4,1332.7 557.7,1331.1 C558.1,1329.5 558.4,1327.8 558.7,1326.2 C559.0,1324.5 559.3,1322.9 559.6,1321.2 C559.9,1319.6 560.1,1317.9 560.4,1316.3 C560.7,1314.6 560.9,1313.0 561.2,1311.3 C561.4,1309.6 561.7,1308.0 561.9,1306.3 C562.2,1304.7 562.4,1303.0 562.7,1301.4 C562.9,1299.7 563.2,1298.1 563.5,1296.4 C563.7,1294.8 564.0,1293.1 564.3,1291.5 C564.6,1289.8 564.9,1288.2 565.2,1286.5 C565.5,1284.9 565.8,1283.2 566.1,1281.6 C566.4,1279.9 566.8,1278.3 567.2,1276.7 C567.5,1275.0 567.9,1273.4 568.3,1271.8 C568.7,1270.1 569.1,1268.5 569.5,1266.9 C569.9,1265.3 570.4,1263.7 570.8,1262.0 C571.3,1260.4 571.7,1258.8 572.2,1257.2 C572.6,1255.6 573.1,1254.0 573.6,1252.4 C574.1,1250.8 574.5,1249.2 575.0,1247.6 C575.5,1246.0 576.0,1244.4 576.5,1242.8 C577.0,1241.2 577.5,1239.6 578.0,1238.0 C578.5,1236.4 579.0,1234.8 579.5,1233.2 C580.0,1231.6 580.5,1230.0 581.0,1228.4 C581.5,1226.8 581.9,1225.2 582.4,1223.6 C582.9,1222.0 583.4,1220.4 583.9,1218.8 C584.4,1217.2 584.8,1215.6 585.3,1214.0 C585.8,1212.4 586.2,1210.7 586.7,1209.1 C587.1,1207.5 587.6,1205.9 588.0,1204.3 C588.4,1202.7 588.8,1201.0 589.2,1199.4 C589.6,1197.8 590.0,1196.2 590.4,1194.5 C590.8,1192.9 591.2,1191.3 591.5,1189.6 C591.9,1188.0 592.2,1186.4 592.6,1184.7 C592.9,1183.1 593.3,1181.5 593.6,1179.8 C594.0,1178.2 594.3,1176.5 594.6,1174.9 C594.9,1173.2 595.2,1171.6 595.5,1170.0 C595.9,1168.3 596.2,1166.7 596.6,1165.0 C597.0,1163.4 597.4,1161.8 597.9,1160.2 C598.4,1158.6 599.0,1157.0 599.7,1155.5 C600.5,1154.0 601.3,1152.6 602.3,1151.2 C603.2,1149.8 604.3,1148.6 605.3,1147.2 C606.4,1145.9 607.5,1144.6 608.3,1143.2 C609.1,1141.7 609.8,1140.2 610.3,1138.6 C610.8,1137.0 611.1,1135.3 611.4,1133.7 C611.7,1132.0 611.8,1130.4 611.9,1128.7 C612.1,1127.0 612.1,1125.3 612.3,1123.7 C612.4,1122.0 612.5,1120.3 612.8,1118.7 C613.0,1117.0 613.3,1115.4 613.8,1113.8 C614.2,1112.1 614.6,1110.5 615.4,1109.0 C616.1,1107.6 617.1,1105.8 618.4,1105.1 C619.7,1104.4 621.8,1104.4 623.2,1104.9 C624.6,1105.4 625.8,1107.5 627.0,1108.2 C628.2,1108.9 629.7,1109.7 630.6,1109.1 C631.4,1108.4 631.3,1105.7 632.2,1104.3 C633.1,1103.0 634.3,1101.8 635.7,1101.1 C637.2,1100.4 639.0,1100.5 640.7,1100.2 C642.3,1100.0 644.0,1099.7 645.7,1099.6 C647.3,1099.5 649.1,1099.3 650.7,1099.6 C652.3,1099.8 654.0,1100.2 655.5,1101.0 C656.9,1101.8 658.2,1103.0 659.3,1104.2 C660.3,1105.5 661.1,1107.0 661.9,1108.5 C662.6,1110.0 663.2,1111.6 663.8,1113.2 C664.3,1114.7 664.8,1116.3 665.3,1117.9 C665.8,1119.5 666.3,1121.1 666.9,1122.7 C667.4,1124.3 668.0,1125.9 668.6,1127.4 C669.2,1129.0 669.9,1130.5 670.5,1132.1 C671.2,1133.6 672.0,1135.1 672.7,1136.6 C673.5,1138.1 674.3,1139.5 675.1,1141.0 C675.9,1142.5 676.7,1144.0 677.5,1145.4 C678.3,1146.9 679.1,1148.4 679.9,1149.8 C680.7,1151.3 681.5,1152.8 682.2,1154.3 C683.0,1155.8 683.7,1157.3 684.4,1158.8 C685.0,1160.4 685.7,1161.9 686.2,1163.5 C686.8,1165.1 687.3,1166.7 687.7,1168.3 C688.2,1169.9 688.5,1171.5 688.8,1173.2 C689.0,1174.8 689.2,1176.5 689.4,1178.2 C689.5,1179.8 689.6,1181.5 689.9,1183.2 C690.2,1184.8 690.6,1186.5 691.2,1188.0 C691.9,1189.5 692.9,1190.9 693.8,1192.3 C694.8,1193.6 696.0,1194.8 697.0,1196.2 C698.0,1197.5 698.9,1199.0 699.6,1200.5 C700.3,1202.0 700.8,1203.6 701.3,1205.2 C701.7,1206.8 702.0,1208.5 702.3,1210.1 C702.7,1211.7 702.9,1213.4 703.1,1215.1 C703.4,1216.7 703.6,1218.4 704.0,1220.0 C704.3,1221.6 704.7,1223.3 705.2,1224.9 C705.7,1226.5 706.4,1228.0 707.1,1229.5 C707.8,1231.0 708.7,1232.5 709.5,1233.9 C710.2,1235.4 711.0,1236.9 711.6,1238.5 C712.3,1240.0 712.8,1241.6 713.3,1243.2 C713.9,1244.8 714.3,1246.4 714.7,1248.0 C715.1,1249.7 715.4,1251.3 715.8,1252.9 C716.1,1254.6 716.4,1256.2 716.7,1257.9 C717.0,1259.5 717.3,1261.2 717.6,1262.8 C717.9,1264.5 718.2,1266.1 718.5,1267.7 C718.9,1269.4 719.2,1271.0 719.6,1272.7 C720.0,1274.3 720.4,1275.9 720.8,1277.5 C721.2,1279.2 721.7,1280.8 722.1,1282.4 C722.6,1284.0 723.1,1285.6 723.6,1287.2 C724.1,1288.8 724.6,1290.4 725.1,1292.0 C725.6,1293.6 726.1,1295.2 726.7,1296.7 C727.2,1298.3 727.8,1299.9 728.3,1301.5 C728.9,1303.1 729.4,1304.6 730.0,1306.2 C730.5,1307.8 731.1,1309.4 731.7,1311.0 C732.2,1312.5 732.8,1314.1 733.3,1315.7 C733.9,1317.3 734.4,1318.9 735.0,1320.4 C735.5,1322.0 736.0,1323.6 736.5,1325.2 C737.1,1326.8 737.6,1328.4 738.1,1330.0 C738.6,1331.6 739.1,1333.2 739.6,1334.8 C740.1,1336.4 740.5,1338.0 741.0,1339.6 C741.5,1341.2 742.0,1342.8 742.4,1344.4 C742.9,1346.0 743.4,1347.6 743.8,1349.2 C744.3,1350.9 744.7,1352.5 745.2,1354.1 C745.6,1355.7 746.1,1357.3 746.6,1358.9 C747.0,1360.5 747.5,1362.1 747.9,1363.7 C748.4,1365.4 748.8,1367.0 749.3,1368.6 C749.7,1370.2 750.2,1371.8 750.6,1373.4 C751.1,1375.0 751.6,1376.6 752.0,1378.2 C752.5,1379.8 753.0,1381.5 753.5,1383.1 C753.9,1384.7 754.4,1386.3 754.9,1387.9 C755.4,1389.5 755.9,1391.1 756.4,1392.7 C756.9,1394.3 757.4,1395.8 757.9,1397.4 C758.5,1399.0 759.0,1400.6 759.5,1402.2 C760.1,1403.8 760.6,1405.4 761.2,1406.9 C761.8,1408.5 762.3,1410.1 762.9,1411.7 C763.5,1413.2 764.1,1414.8 764.7,1416.3 C765.3,1417.9 766.0,1419.5 766.6,1421.0 C767.2,1422.6 767.8,1424.1 768.5,1425.7 C769.1,1427.2 769.8,1428.8 770.4,1430.3 C771.1,1431.8 771.7,1433.4 772.4,1434.9 C773.1,1436.4 773.7,1438.0 774.4,1439.5 C775.1,1441.0 775.8,1442.6 776.5,1444.1 C777.2,1445.6 777.9,1447.1 778.6,1448.6 C779.3,1450.2 780.1,1451.7 780.9,1453.1 C781.7,1454.6 782.5,1456.0 783.4,1457.4 C784.4,1458.8 785.3,1460.2 786.4,1461.5 C787.5,1462.8 788.6,1464.0 789.8,1465.2 C791.0,1466.3 792.3,1467.4 793.5,1468.6 C794.8,1469.7 796.1,1470.8 797.3,1471.9 C798.5,1473.0 799.7,1474.2 800.8,1475.4 C801.9,1476.7 803.0,1478.0 803.9,1479.4 C804.9,1480.8 805.6,1482.3 806.3,1483.8 C807.1,1485.3 807.7,1486.9 808.3,1488.4 C808.9,1490.0 809.5,1491.5 810.2,1493.1 C810.9,1494.6 811.6,1496.1 812.4,1497.6 C813.2,1499.0 814.1,1500.5 815.1,1501.8 C816.1,1503.2 817.1,1504.5 818.3,1505.7 C819.4,1506.9 820.7,1508.0 822.0,1509.1 C823.3,1510.1 824.6,1511.1 826.1,1512.0 C827.5,1512.9 828.9,1513.7 830.5,1514.4 C832.0,1515.1 833.5,1515.8 835.1,1516.3 C836.7,1516.8 838.4,1517.3 840.0,1517.4 C841.6,1517.5 843.4,1517.3 844.9,1516.7 C846.4,1516.1 847.6,1514.7 848.8,1513.6 C850.1,1512.5 851.3,1510.4 852.5,1510.2 C853.8,1510.1 855.2,1511.6 856.1,1512.8 C857.0,1514.0 857.3,1515.9 857.9,1517.4 C858.6,1519.0 859.1,1520.6 860.0,1522.0 C860.9,1523.4 862.1,1525.4 863.4,1525.6 C864.6,1525.9 866.2,1524.4 867.6,1523.7 C869.0,1523.0 870.4,1521.3 871.7,1521.5 C873.0,1521.7 874.0,1524.4 875.3,1524.9 C876.6,1525.5 878.3,1525.3 879.7,1524.6 C881.0,1524.0 881.9,1521.9 883.2,1521.1 C884.6,1520.2 886.3,1519.5 887.8,1519.7 C889.3,1519.8 890.7,1521.3 892.2,1522.0 C893.7,1522.7 895.3,1524.0 896.8,1523.9 C898.3,1523.9 899.8,1522.5 901.3,1522.0 C902.8,1521.4 904.4,1520.2 905.8,1520.5 C907.1,1520.8 908.2,1523.2 909.5,1523.8 C910.9,1524.3 912.6,1524.4 914.0,1523.9 C915.4,1523.4 916.6,1521.1 918.0,1520.8 C919.4,1520.4 921.1,1520.8 922.4,1521.6 C923.7,1522.4 924.4,1524.8 925.7,1525.5 C926.9,1526.1 928.6,1526.3 929.8,1525.7 C931.0,1525.0 931.6,1522.5 932.8,1521.7 C934.1,1520.9 935.8,1520.5 937.2,1520.9 C938.5,1521.3 939.6,1523.6 941.0,1524.1 C942.5,1524.5 944.2,1524.4 945.6,1523.8 C947.1,1523.2 948.1,1521.1 949.6,1520.7 C951.0,1520.2 952.7,1520.7 954.3,1521.2 C955.8,1521.7 957.1,1523.5 958.6,1523.7 C960.1,1523.9 961.8,1523.0 963.3,1522.4 C964.8,1521.8 966.2,1520.2 967.7,1520.1 C969.2,1520.1 970.8,1521.3 972.3,1521.9 C973.8,1522.6 975.3,1523.9 976.8,1523.9 C978.3,1524.0 979.9,1522.8 981.5,1522.2 C983.0,1521.6 984.5,1520.3 986.0,1520.1 C987.6,1520.0 989.3,1520.7 990.8,1521.3 C992.3,1522.0 993.5,1523.5 995.0,1524.0 C996.5,1524.5 998.4,1524.9 999.6,1524.2 C1000.9,1523.5 1001.5,1521.5 1002.4,1520.0 C1003.2,1518.6 1003.8,1516.9 1004.7,1515.6 C1005.6,1514.2 1006.6,1512.3 1007.9,1511.8 C1009.2,1511.3 1011.1,1511.8 1012.4,1512.6 C1013.6,1513.4 1014.4,1515.2 1015.4,1516.6 C1016.3,1518.0 1017.0,1519.5 1018.0,1520.9 C1018.9,1522.3 1019.8,1524.1 1021.0,1524.9 C1022.3,1525.6 1024.1,1525.9 1025.5,1525.4 C1026.8,1524.9 1027.7,1522.7 1029.0,1521.9 C1030.3,1521.0 1032.0,1520.2 1033.4,1520.4 C1034.9,1520.6 1036.1,1522.7 1037.6,1523.1 C1039.1,1523.6 1040.8,1523.5 1042.3,1523.1 C1043.8,1522.6 1045.1,1520.8 1046.6,1520.5 C1048.1,1520.2 1049.8,1520.7 1051.3,1521.3 C1052.9,1521.8 1054.1,1523.5 1055.7,1523.8 C1057.2,1524.1 1059.0,1523.7 1060.5,1523.2 C1062.1,1522.7 1063.5,1521.5 1065.0,1521.0 C1066.6,1520.4 1068.3,1519.9 1069.9,1520.0 C1071.5,1520.1 1073.1,1520.9 1074.7,1521.5 C1076.3,1522.1 1077.7,1523.0 1079.3,1523.4 C1080.9,1523.8 1082.7,1524.0 1084.3,1523.8 C1085.8,1523.5 1087.4,1522.5 1088.9,1521.8 C1090.4,1521.1 1091.8,1520.1 1093.4,1519.5 C1094.9,1519.0 1096.6,1518.7 1098.3,1518.7 C1099.9,1518.7 1101.6,1519.1 1103.2,1519.3 C1104.9,1519.5 1106.6,1520.0 1108.2,1520.0 C1109.9,1520.0 1111.6,1519.8 1113.2,1519.5 C1114.9,1519.3 1116.5,1518.7 1118.1,1518.7 C1119.8,1518.6 1121.5,1518.8 1123.0,1519.4 C1124.5,1520.0 1125.8,1521.3 1127.2,1522.3 C1128.5,1523.3 1129.7,1524.7 1131.2,1525.2 C1132.7,1525.8 1134.5,1526.0 1136.0,1525.5 C1137.5,1525.1 1138.7,1523.6 1140.0,1522.5 C1141.3,1521.5 1142.5,1520.0 1144.0,1519.5 C1145.5,1519.0 1147.3,1519.2 1148.7,1519.7 C1150.2,1520.3 1151.3,1521.9 1152.7,1522.8 C1154.1,1523.7 1155.5,1525.1 1157.0,1525.3 C1158.5,1525.6 1160.3,1525.0 1161.8,1524.3 C1163.3,1523.6 1164.6,1522.4 1165.9,1521.4 C1167.2,1520.3 1168.3,1519.1 1169.6,1518.0 C1170.9,1517.0 1172.2,1515.6 1173.7,1515.1 C1175.1,1514.6 1177.1,1514.4 1178.4,1515.1 C1179.7,1515.7 1180.5,1517.7 1181.6,1518.9 C1182.7,1520.2 1183.6,1522.0 1184.9,1522.6 C1186.3,1523.3 1188.2,1523.3 1189.7,1523.0 C1191.3,1522.7 1192.8,1521.6 1194.2,1520.7 C1195.6,1519.8 1196.9,1518.8 1198.3,1517.8 C1199.7,1516.8 1201.0,1515.8 1202.4,1515.0 C1203.9,1514.1 1205.4,1513.0 1207.0,1512.8 C1208.5,1512.5 1210.4,1512.7 1211.7,1513.4 C1213.1,1514.2 1214.0,1515.9 1215.1,1517.2 C1216.2,1518.4 1217.0,1520.2 1218.3,1521.0 C1219.6,1521.9 1221.4,1522.5 1222.9,1522.4 C1224.5,1522.4 1226.1,1521.4 1227.6,1520.7 C1229.1,1519.9 1230.5,1518.9 1231.9,1518.1 C1233.3,1517.2 1234.7,1516.1 1236.2,1515.4 C1237.6,1514.6 1239.3,1513.6 1240.8,1513.6 C1242.4,1513.5 1244.1,1514.1 1245.5,1515.0 C1246.8,1515.8 1247.8,1517.4 1248.9,1518.6 C1250.1,1519.8 1251.0,1521.7 1252.4,1522.2 C1253.7,1522.8 1255.6,1522.5 1256.9,1521.8 C1258.2,1521.1 1259.2,1519.3 1260.4,1518.2 C1261.6,1517.0 1262.7,1515.4 1264.1,1514.8 C1265.5,1514.2 1267.4,1514.2 1268.9,1514.6 C1270.4,1515.0 1271.7,1516.6 1273.2,1517.1 C1274.8,1517.5 1276.6,1517.8 1277.9,1517.2 C1279.3,1516.6 1280.1,1514.7 1281.2,1513.5 C1282.3,1512.2 1283.1,1510.5 1284.4,1509.6 C1285.7,1508.7 1288.2,1508.3 1289.0,1508.0" fill="none" stroke="#386AC6" stroke-width="7.6" stroke-linecap="round" stroke-linejoin="round"/>
<path d="M226.8,1515.8 C227.6,1515.5 230.0,1514.7 231.6,1514.4 C233.3,1514.1 235.0,1514.0 236.6,1514.0 C238.3,1513.9 240.0,1514.0 241.6,1514.2 C243.3,1514.4 245.0,1514.7 246.6,1515.1 C248.2,1515.5 249.8,1515.9 251.4,1516.4 C253.0,1516.9 254.6,1517.5 256.1,1518.1 C257.7,1518.8 259.2,1519.4 260.7,1520.2 C262.2,1520.9 263.7,1521.7 265.1,1522.6 C266.6,1523.4 268.0,1524.3 269.4,1525.3 C270.8,1526.2 272.1,1527.2 273.4,1528.2 C274.8,1529.2 276.0,1530.3 277.3,1531.4 C278.6,1532.5 279.8,1533.6 281.1,1534.7 C282.3,1535.9 283.5,1537.0 284.7,1538.2 C285.9,1539.3 287.1,1540.5 288.3,1541.7 C289.5,1542.8 290.7,1544.0 291.9,1545.2 C293.1,1546.4 294.3,1547.5 295.5,1548.7 C296.7,1549.8 297.9,1551.0 299.2,1552.1 C300.4,1553.3 301.6,1554.4 302.9,1555.5 C304.2,1556.6 305.5,1557.6 306.8,1558.7 C308.1,1559.7 309.4,1560.7 310.8,1561.7 C312.2,1562.6 313.6,1563.5 315.0,1564.4 C316.5,1565.2 318.0,1566.0 319.5,1566.7 C321.0,1567.3 322.6,1567.9 324.2,1568.3 C325.8,1568.8 327.5,1569.1 329.2,1569.1 C330.8,1569.2 332.5,1569.1 334.2,1568.8 C335.8,1568.6 337.4,1568.1 339.0,1567.5 C340.6,1566.9 342.1,1566.2 343.6,1565.4 C345.0,1564.7 346.5,1563.8 347.9,1562.9 C349.3,1562.0 350.7,1561.1 352.1,1560.1 C353.4,1559.1 354.8,1558.1 356.1,1557.1 C357.4,1556.1 358.8,1555.1 360.1,1554.1 C361.4,1553.0 362.7,1552.0 364.1,1551.0 C365.4,1550.0 366.7,1549.0 368.1,1548.0 C369.5,1547.0 370.8,1546.1 372.2,1545.2 C373.6,1544.2 375.0,1543.3 376.5,1542.5 C378.0,1541.7 379.5,1540.9 381.0,1540.3 C382.5,1539.6 384.1,1539.1 385.7,1538.6 C387.3,1538.2 389.0,1537.9 390.7,1537.8 C392.3,1537.7 394.0,1537.7 395.7,1537.9 C397.3,1538.2 399.0,1538.5 400.6,1539.0 C402.2,1539.5 403.7,1540.2 405.2,1541.0 C406.7,1541.7 408.1,1542.6 409.4,1543.6 C410.8,1544.6 412.0,1545.8 413.2,1547.0 C414.4,1548.2 415.4,1549.5 416.4,1550.8 C417.4,1552.2 418.2,1553.6 419.0,1555.1 C419.8,1556.6 420.6,1558.1 421.3,1559.6 C422.0,1561.1 422.6,1562.6 423.3,1564.2 C423.9,1565.7 424.6,1567.3 425.2,1568.8 C425.8,1570.4 426.4,1571.9 427.1,1573.5 C427.7,1575.0 428.3,1576.6 428.9,1578.2 C429.5,1579.7 430.2,1581.3 430.8,1582.8 C431.4,1584.4 432.0,1585.9 432.6,1587.5 C433.2,1589.0 433.8,1590.6 434.4,1592.2 C435.0,1593.7 435.6,1595.3 436.2,1596.8 C436.8,1598.4 437.4,1600.0 438.0,1601.5 C438.6,1603.1 439.2,1604.7 439.8,1606.2 C440.4,1607.8 440.9,1609.4 441.5,1611.0 C442.1,1612.5 442.7,1614.1 443.2,1615.7 C443.8,1617.3 444.3,1618.8 444.9,1620.4 C445.4,1622.0 446.0,1623.6 446.5,1625.2 C447.0,1626.8 447.6,1628.3 448.1,1629.9 C448.6,1631.5 449.1,1633.1 449.6,1634.7 C450.1,1636.3 450.6,1637.9 451.1,1639.5 C451.6,1641.1 452.1,1642.7 452.6,1644.3 C453.1,1645.9 453.6,1647.5 454.0,1649.1 C454.5,1650.7 455.0,1652.3 455.5,1653.9 C455.9,1655.5 456.4,1657.1 456.8,1658.7 C457.3,1660.4 457.8,1662.0 458.2,1663.6 C458.7,1665.2 459.1,1666.8 459.6,1668.4 C460.0,1670.0 460.4,1671.6 460.9,1673.3 C461.3,1674.9 461.8,1676.5 462.2,1678.1 C462.7,1679.7 463.1,1681.3 463.5,1682.9 C464.0,1684.6 464.4,1686.2 464.9,1687.8 C465.3,1689.4 465.7,1691.0 466.2,1692.6 C466.6,1694.2 467.1,1695.9 467.5,1697.5 C467.9,1699.1 468.4,1700.7 468.8,1702.3 C469.3,1703.9 469.7,1705.5 470.2,1707.1 C470.6,1708.8 471.1,1710.4 471.5,1712.0 C472.0,1713.6 472.4,1715.2 472.9,1716.8 C473.4,1718.4 473.8,1720.0 474.3,1721.6 C474.8,1723.2 475.3,1724.8 475.7,1726.4 C476.2,1728.0 476.7,1729.6 477.2,1731.2 C477.7,1732.8 478.2,1734.4 478.7,1736.0 C479.2,1737.6 479.7,1739.2 480.3,1740.8 C480.8,1742.4 481.3,1744.0 481.9,1745.6 C482.4,1747.1 483.0,1748.7 483.6,1750.3 C484.1,1751.9 484.7,1753.4 485.3,1755.0 C485.9,1756.5 486.5,1758.1 487.2,1759.7 C487.8,1761.2 488.4,1762.8 489.1,1764.3 C489.8,1765.8 490.4,1767.4 491.2,1768.8 C492.0,1770.3 492.8,1772.3 494.1,1772.9 C495.3,1773.6 497.3,1773.4 498.7,1772.8 C500.0,1772.1 501.0,1770.4 502.1,1769.1 C503.1,1767.8 504.0,1766.4 504.9,1765.0 C505.8,1763.6 506.7,1762.1 507.5,1760.7 C508.3,1759.2 509.1,1757.8 509.9,1756.3 C510.7,1754.8 511.4,1753.3 512.1,1751.8 C512.8,1750.2 513.5,1748.7 514.1,1747.1 C514.7,1745.6 515.3,1744.0 515.9,1742.5 C516.5,1740.9 517.0,1739.3 517.5,1737.7 C518.0,1736.1 518.5,1734.5 519.0,1732.9 C519.5,1731.3 519.9,1729.7 520.3,1728.1 C520.7,1726.4 521.1,1724.8 521.5,1723.2 C521.9,1721.6 522.2,1719.9 522.6,1718.3 C522.9,1716.6 523.2,1715.0 523.5,1713.4 C523.8,1711.7 524.1,1710.1 524.4,1708.4 C524.7,1706.8 525.0,1705.1 525.2,1703.5 C525.5,1701.8 525.7,1700.2 526.0,1698.5 C526.2,1696.8 526.4,1695.2 526.7,1693.5 C526.9,1691.9 527.1,1690.2 527.3,1688.6 C527.6,1686.9 527.8,1685.2 528.0,1683.6 C528.2,1681.9 528.4,1680.3 528.6,1678.6 C528.8,1676.9 529.0,1675.3 529.3,1673.6 C529.5,1672.0 529.7,1670.3 529.9,1668.6 C530.1,1667.0 530.3,1665.3 530.5,1663.7 C530.7,1662.0 530.9,1660.3 531.1,1658.7 C531.3,1657.0 531.5,1655.3 531.7,1653.7 C531.9,1652.0 532.1,1650.4 532.3,1648.7 C532.5,1647.0 532.7,1645.4 532.9,1643.7 C533.0,1642.0 533.2,1640.4 533.4,1638.7 C533.6,1637.1 533.8,1635.4 534.0,1633.7 C534.2,1632.1 534.4,1630.4 534.6,1628.7 C534.8,1627.1 534.9,1625.4 535.1,1623.8 C535.3,1622.1 535.5,1620.4 535.7,1618.8 C535.9,1617.1 536.0,1615.4 536.2,1613.8 C536.4,1612.1 536.6,1610.5 536.8,1608.8 C536.9,1607.1 537.1,1605.5 537.3,1603.8 C537.5,1602.1 537.6,1600.5 537.8,1598.8 C538.0,1597.1 538.2,1595.5 538.3,1593.8 C538.5,1592.1 538.7,1590.5 538.9,1588.8 C539.0,1587.2 539.2,1585.5 539.4,1583.8 C539.5,1582.2 539.7,1580.5 539.9,1578.8 C540.0,1577.2 540.2,1575.5 540.4,1573.8 C540.5,1572.2 540.7,1570.5 540.9,1568.8 C541.0,1567.2 541.2,1565.5 541.4,1563.8 C541.5,1562.2 541.7,1560.5 541.9,1558.9 C542.0,1557.2 542.2,1555.5 542.4,1553.9 C542.5,1552.2 542.7,1550.5 542.8,1548.9 C543.0,1547.2 543.2,1545.5 543.3,1543.9 C543.5,1542.2 543.6,1540.5 543.8,1538.9 C544.0,1537.2 544.1,1535.5 544.3,1533.9 C544.4,1532.2 544.6,1530.5 544.7,1528.9 C544.9,1527.2 545.1,1525.5 545.2,1523.9 C545.4,1522.2 545.5,1520.5 545.7,1518.9 C545.8,1517.2 546.0,1515.5 546.2,1513.9 C546.3,1512.2 546.5,1510.5 546.6,1508.9 C546.8,1507.2 546.9,1505.5 547.1,1503.9 C547.2,1502.2 547.4,1500.5 547.5,1498.9 C547.7,1497.2 547.9,1495.5 548.0,1493.9 C548.2,1492.2 548.3,1490.6 548.5,1488.9 C548.6,1487.2 548.8,1485.6 548.9,1483.9 C549.1,1482.2 549.2,1480.6 549.4,1478.9 C549.5,1477.2 549.7,1475.6 549.8,1473.9 C550.0,1472.2 550.2,1470.6 550.3,1468.9 C550.5,1467.2 550.6,1465.6 550.8,1463.9 C550.9,1462.2 551.1,1460.6 551.2,1458.9 C551.4,1457.2 551.5,1455.6 551.7,1453.9 C551.8,1452.2 552.0,1450.6 552.1,1448.9 C552.3,1447.2 552.5,1445.6 552.6,1443.9 C552.8,1442.2 552.9,1440.6 553.1,1438.9 C553.2,1437.2 553.4,1435.6 553.5,1433.9 C553.7,1432.2 553.8,1430.6 554.0,1428.9 C554.2,1427.2 554.3,1425.6 554.5,1423.9 C554.6,1422.2 554.8,1420.6 554.9,1418.9 C555.1,1417.2 555.2,1415.6 555.4,1413.9 C555.6,1412.2 555.7,1410.6 555.9,1408.9 C556.0,1407.2 556.2,1405.6 556.4,1403.9 C556.5,1402.2 556.7,1400.6 556.8,1398.9 C557.0,1397.2 557.2,1395.6 557.3,1393.9 C557.5,1392.3 557.6,1390.6 557.8,1388.9 C558.0,1387.3 558.1,1385.6 558.3,1383.9 C558.5,1382.3 558.6,1380.6 558.8,1378.9 C558.9,1377.3 559.1,1375.6 559.3,1373.9 C559.4,1372.3 559.6,1370.6 559.8,1368.9 C559.9,1367.3 560.1,1365.6 560.3,1363.9 C560.4,1362.3 560.6,1360.6 560.8,1359.0 C561.0,1357.3 561.1,1355.6 561.3,1354.0 C561.5,1352.3 561.6,1350.6 561.8,1349.0 C562.0,1347.3 562.2,1345.6 562.3,1344.0 C562.5,1342.3 562.7,1340.6 562.9,1339.0 C563.0,1337.3 563.2,1335.7 563.4,1334.0 C563.6,1332.3 563.8,1330.7 563.9,1329.0 C564.1,1327.3 564.3,1325.7 564.5,1324.0 C564.6,1322.3 564.8,1320.7 565.0,1319.0 C565.2,1317.4 565.4,1315.7 565.6,1314.0 C565.7,1312.4 565.9,1310.7 566.1,1309.0 C566.3,1307.4 566.5,1305.7 566.7,1304.0 C566.8,1302.4 567.0,1300.7 567.2,1299.1 C567.4,1297.4 567.6,1295.7 567.8,1294.1 C568.0,1292.4 568.2,1290.7 568.3,1289.1 C568.5,1287.4 568.7,1285.8 568.9,1284.1 C569.1,1282.4 569.3,1280.8 569.5,1279.1 C569.7,1277.4 569.9,1275.8 570.1,1274.1 C570.2,1272.5 570.4,1270.8 570.6,1269.1 C570.8,1267.5 571.0,1265.8 571.2,1264.1 C571.4,1262.5 571.6,1260.8 571.8,1259.2 C572.0,1257.5 572.2,1255.8 572.4,1254.2 C572.6,1252.5 572.8,1250.8 573.0,1249.2 C573.2,1247.5 573.4,1245.9 573.6,1244.2 C573.8,1242.5 573.9,1240.9 574.1,1239.2 C574.3,1237.6 574.5,1235.9 574.7,1234.2 C574.9,1232.6 575.1,1230.9 575.3,1229.2 C575.5,1227.6 575.7,1225.9 575.9,1224.3 C576.1,1222.6 576.3,1220.9 576.5,1219.3 C576.7,1217.6 576.9,1216.0 577.1,1214.3 C577.3,1212.6 577.5,1211.0 577.7,1209.3 C577.9,1207.7 578.1,1206.0 578.3,1204.3 C578.5,1202.7 578.8,1201.0 579.0,1199.3 C579.2,1197.7 579.4,1196.0 579.6,1194.4 C579.8,1192.7 580.0,1191.0 580.2,1189.4 C580.4,1187.7 580.6,1186.1 580.8,1184.4 C581.0,1182.7 581.2,1181.1 581.4,1179.4 C581.6,1177.8 581.8,1176.1 582.1,1174.4 C582.3,1172.8 582.5,1171.1 582.7,1169.5 C582.9,1167.8 583.1,1166.1 583.4,1164.5 C583.6,1162.8 583.8,1161.2 584.0,1159.5 C584.3,1157.9 584.5,1156.2 584.7,1154.5 C584.9,1152.9 585.2,1151.2 585.4,1149.6 C585.7,1147.9 585.9,1146.3 586.1,1144.6 C586.4,1142.9 586.6,1141.3 586.9,1139.6 C587.1,1138.0 587.4,1136.3 587.6,1134.7 C587.9,1133.0 588.1,1131.4 588.4,1129.7 C588.7,1128.1 588.9,1126.4 589.2,1124.8 C589.5,1123.1 589.8,1121.5 590.0,1119.8 C590.3,1118.2 590.6,1116.5 590.9,1114.9 C591.2,1113.2 591.5,1111.6 591.8,1109.9 C592.1,1108.3 592.4,1106.6 592.7,1105.0 C593.0,1103.3 593.4,1101.7 593.7,1100.1 C594.1,1098.4 594.5,1096.8 594.8,1095.2 C595.2,1093.6 595.7,1091.9 596.1,1090.3 C596.6,1088.7 597.0,1087.1 597.6,1085.5 C598.1,1083.9 598.6,1082.3 599.2,1080.8 C599.8,1079.2 600.4,1077.6 601.1,1076.1 C601.8,1074.6 602.5,1073.1 603.2,1071.6 C604.0,1070.1 604.8,1068.6 605.7,1067.2 C606.5,1065.8 607.4,1064.3 608.4,1063.0 C609.4,1061.7 610.4,1060.2 611.7,1059.2 C613.0,1058.3 614.8,1057.6 616.3,1057.5 C617.9,1057.5 619.6,1058.2 621.1,1058.9 C622.6,1059.6 624.0,1060.6 625.2,1061.7 C626.5,1062.8 627.6,1064.1 628.5,1065.5 C629.5,1066.8 630.3,1068.3 631.1,1069.8 C631.9,1071.3 632.5,1072.8 633.2,1074.4 C633.9,1075.9 634.5,1077.5 635.1,1079.0 C635.7,1080.6 636.2,1082.2 636.7,1083.8 C637.3,1085.3 637.8,1086.9 638.2,1088.5 C638.7,1090.2 639.1,1091.8 639.6,1093.4 C640.0,1095.0 640.4,1096.6 640.8,1098.2 C641.2,1099.9 641.6,1101.5 642.0,1103.1 C642.4,1104.7 642.8,1106.4 643.2,1108.0 C643.6,1109.6 644.0,1111.3 644.4,1112.9 C644.7,1114.5 645.1,1116.1 645.5,1117.8 C645.9,1119.4 646.3,1121.0 646.7,1122.7 C647.1,1124.3 647.4,1125.9 647.8,1127.5 C648.2,1129.2 648.6,1130.8 649.0,1132.4 C649.3,1134.1 649.7,1135.7 650.1,1137.3 C650.5,1138.9 650.9,1140.6 651.2,1142.2 C651.6,1143.8 652.0,1145.5 652.4,1147.1 C652.7,1148.7 653.1,1150.4 653.5,1152.0 C653.8,1153.6 654.2,1155.3 654.6,1156.9 C654.9,1158.5 655.3,1160.2 655.7,1161.8 C656.0,1163.4 656.4,1165.1 656.8,1166.7 C657.1,1168.3 657.5,1170.0 657.8,1171.6 C658.2,1173.2 658.5,1174.9 658.9,1176.5 C659.2,1178.1 659.6,1179.8 659.9,1181.4 C660.3,1183.0 660.6,1184.7 661.0,1186.3 C661.3,1188.0 661.7,1189.6 662.0,1191.2 C662.3,1192.9 662.7,1194.5 663.0,1196.2 C663.4,1197.8 663.7,1199.4 664.0,1201.1 C664.3,1202.7 664.7,1204.4 665.0,1206.0 C665.3,1207.6 665.7,1209.3 666.0,1210.9 C666.3,1212.6 666.6,1214.2 666.9,1215.8 C667.3,1217.5 667.6,1219.1 667.9,1220.8 C668.2,1222.4 668.5,1224.1 668.9,1225.7 C669.2,1227.3 669.5,1229.0 669.8,1230.6 C670.1,1232.3 670.4,1233.9 670.8,1235.6 C671.1,1237.2 671.4,1238.8 671.7,1240.5 C672.0,1242.1 672.3,1243.8 672.6,1245.4 C672.9,1247.1 673.3,1248.7 673.6,1250.4 C673.9,1252.0 674.2,1253.6 674.5,1255.3 C674.8,1256.9 675.1,1258.6 675.5,1260.2 C675.8,1261.9 676.1,1263.5 676.4,1265.1 C676.7,1266.8 677.0,1268.4 677.4,1270.1 C677.7,1271.7 678.0,1273.4 678.3,1275.0 C678.6,1276.6 679.0,1278.3 679.3,1279.9 C679.6,1281.6 679.9,1283.2 680.2,1284.9 C680.6,1286.5 680.9,1288.1 681.2,1289.8 C681.6,1291.4 681.9,1293.1 682.2,1294.7 C682.6,1296.3 682.9,1298.0 683.2,1299.6 C683.6,1301.3 683.9,1302.9 684.2,1304.5 C684.6,1306.2 684.9,1307.8 685.3,1309.4 C685.6,1311.1 686.0,1312.7 686.3,1314.4 C686.7,1316.0 687.0,1317.6 687.4,1319.3 C687.7,1320.9 688.1,1322.5 688.5,1324.2 C688.8,1325.8 689.2,1327.4 689.6,1329.1 C689.9,1330.7 690.3,1332.3 690.7,1334.0 C691.1,1335.6 691.4,1337.2 691.8,1338.8 C692.2,1340.5 692.6,1342.1 693.0,1343.7 C693.4,1345.4 693.8,1347.0 694.2,1348.6 C694.6,1350.2 695.0,1351.9 695.4,1353.5 C695.8,1355.1 696.2,1356.7 696.6,1358.3 C697.1,1360.0 697.5,1361.6 697.9,1363.2 C698.3,1364.8 698.8,1366.4 699.2,1368.0 C699.6,1369.7 700.1,1371.3 700.5,1372.9 C701.0,1374.5 701.4,1376.1 701.9,1377.7 C702.4,1379.3 702.8,1380.9 703.3,1382.5 C703.8,1384.1 704.3,1385.7 704.7,1387.3 C705.2,1388.9 705.7,1390.5 706.2,1392.1 C706.7,1393.7 707.2,1395.3 707.7,1396.9 C708.2,1398.5 708.7,1400.1 709.3,1401.7 C709.8,1403.3 710.3,1404.9 710.9,1406.5 C711.4,1408.0 711.9,1409.6 712.5,1411.2 C713.1,1412.8 713.6,1414.4 714.2,1415.9 C714.7,1417.5 715.3,1419.1 715.9,1420.7 C716.5,1422.2 717.1,1423.8 717.7,1425.4 C718.3,1426.9 718.9,1428.5 719.5,1430.0 C720.1,1431.6 720.7,1433.1 721.4,1434.7 C722.0,1436.2 722.6,1437.8 723.3,1439.3 C724.0,1440.9 724.7,1442.4 725.3,1443.9 C726.0,1445.4 726.7,1446.9 727.5,1448.5 C728.2,1450.0 728.9,1451.5 729.7,1452.9 C730.5,1454.4 731.3,1455.9 732.1,1457.4 C732.9,1458.8 733.7,1460.3 734.6,1461.7 C735.4,1463.2 736.3,1464.6 737.2,1466.0 C738.1,1467.4 739.0,1468.8 740.0,1470.2 C740.9,1471.6 741.9,1472.9 742.9,1474.3 C743.9,1475.6 744.9,1476.9 746.0,1478.2 C747.1,1479.5 748.2,1480.8 749.3,1482.0 C750.4,1483.2 751.6,1484.4 752.8,1485.6 C754.0,1486.8 755.2,1487.9 756.4,1489.0 C757.7,1490.1 759.0,1491.2 760.3,1492.3 C761.6,1493.3 763.0,1494.3 764.3,1495.3 C765.7,1496.2 767.1,1497.2 768.5,1498.1 C769.9,1499.0 771.3,1499.8 772.8,1500.6 C774.3,1501.4 775.7,1502.2 777.2,1503.0 C778.7,1503.7 780.3,1504.4 781.8,1505.1 C783.3,1505.7 784.9,1506.4 786.5,1507.0 C788.0,1507.5 789.6,1508.1 791.2,1508.6 C792.8,1509.1 794.4,1509.6 796.0,1510.0 C797.6,1510.4 799.3,1510.8 800.9,1511.1 C802.5,1511.5 804.2,1511.8 805.8,1512.0 C807.5,1512.3 809.2,1512.5 810.8,1512.7 C812.5,1512.9 814.1,1513.1 815.8,1513.3 C817.5,1513.4 819.1,1513.6 820.8,1513.7 C822.5,1513.8 824.1,1513.9 825.8,1514.0 C827.5,1514.1 829.2,1514.1 830.8,1514.2 C832.5,1514.3 834.2,1514.4 835.8,1514.4 C837.5,1514.5 839.2,1514.5 840.9,1514.6 C842.5,1514.7 844.2,1514.7 845.9,1514.8 C847.6,1514.8 849.2,1514.9 850.9,1514.9 C852.6,1514.9 854.2,1515.0 855.9,1515.0 C857.6,1515.1 859.3,1515.1 860.9,1515.1 C862.6,1515.2 864.3,1515.2 866.0,1515.2 C867.6,1515.3 869.3,1515.3 871.0,1515.3 C872.6,1515.4 874.3,1515.4 876.0,1515.4 C877.7,1515.4 879.3,1515.5 881.0,1515.5 C882.7,1515.5 884.4,1515.5 886.0,1515.5 C887.7,1515.6 889.4,1515.6 891.1,1515.6 C892.7,1515.6 894.4,1515.6 896.1,1515.6 C897.7,1515.7 899.4,1515.7 901.1,1515.7 C902.8,1515.7 904.4,1515.7 906.1,1515.7 C907.8,1515.8 909.5,1515.8 911.1,1515.8 C912.8,1515.8 914.5,1515.8 916.2,1515.8 C917.8,1515.8 919.5,1515.8 921.2,1515.8 C922.8,1515.9 924.5,1515.9 926.2,1515.9 C927.9,1515.9 929.5,1515.9 931.2,1515.9 C932.9,1515.9 934.6,1515.9 936.2,1515.9 C937.9,1515.9 939.6,1516.0 941.2,1516.0 C942.9,1516.0 944.6,1516.0 946.3,1516.0 C947.9,1516.0 949.6,1516.0 951.3,1516.0 C953.0,1516.0 954.6,1516.0 956.3,1516.0 C958.0,1516.0 959.7,1516.0 961.3,1516.0 C963.0,1516.1 964.7,1516.1 966.3,1516.1 C968.0,1516.1 969.7,1516.1 971.4,1516.1 C973.0,1516.1 974.7,1516.1 976.4,1516.1 C978.1,1516.1 979.7,1516.1 981.4,1516.1 C983.1,1516.1 984.8,1516.1 986.4,1516.1 C988.1,1516.1 989.8,1516.1 991.4,1516.1 C993.1,1516.1 994.8,1516.1 996.5,1516.1 C998.1,1516.1 999.8,1516.1 1001.5,1516.1 C1003.2,1516.1 1004.8,1516.1 1006.5,1516.1 C1008.2,1516.1 1009.9,1516.1 1011.5,1516.1 C1013.2,1516.1 1014.9,1516.1 1016.5,1516.1 C1018.2,1516.1 1019.9,1516.1 1021.6,1516.1 C1023.2,1516.1 1024.9,1516.1 1026.6,1516.1 C1028.3,1516.1 1029.9,1516.1 1031.6,1516.1 C1033.3,1516.1 1035.0,1516.1 1036.6,1516.1 C1038.3,1516.1 1040.0,1516.1 1041.6,1516.1 C1043.3,1516.1 1045.0,1516.1 1046.7,1516.1 C1048.3,1516.1 1050.0,1516.1 1051.7,1516.1 C1053.4,1516.1 1055.0,1516.1 1056.7,1516.1 C1058.4,1516.1 1060.1,1516.1 1061.7,1516.1 C1063.4,1516.1 1065.1,1516.1 1066.7,1516.1 C1068.4,1516.1 1070.1,1516.1 1071.8,1516.1 C1073.4,1516.1 1075.1,1516.1 1076.8,1516.1 C1078.5,1516.1 1080.1,1516.1 1081.8,1516.1 C1083.5,1516.1 1085.2,1516.0 1086.8,1516.0 C1088.5,1516.0 1090.2,1516.0 1091.8,1516.0 C1093.5,1516.0 1095.2,1516.0 1096.9,1516.0 C1098.5,1516.0 1100.2,1516.0 1101.9,1516.0 C1103.6,1516.0 1105.2,1516.0 1106.9,1516.0 C1108.6,1516.0 1110.3,1516.0 1111.9,1516.0 C1113.6,1516.0 1115.3,1516.0 1116.9,1516.0 C1118.6,1516.0 1120.3,1516.0 1122.0,1516.0 C1123.6,1516.0 1125.3,1516.0 1127.0,1516.0 C1128.7,1516.0 1130.3,1516.0 1132.0,1516.0 C1133.7,1516.0 1135.4,1516.0 1137.0,1515.9 C1138.7,1515.9 1140.4,1515.9 1142.0,1515.9 C1143.7,1515.9 1145.4,1515.9 1147.1,1515.9 C1148.7,1515.9 1150.4,1515.9 1152.1,1515.9 C1153.8,1515.9 1155.4,1515.9 1157.1,1515.9 C1158.8,1515.9 1160.5,1515.9 1162.1,1515.9 C1163.8,1515.9 1165.5,1515.9 1167.1,1515.9 C1168.8,1515.9 1170.5,1515.9 1172.2,1515.9 C1173.8,1515.9 1175.5,1515.9 1177.2,1515.9 C1178.9,1515.9 1180.5,1515.9 1182.2,1515.9 C1183.9,1515.9 1185.6,1515.9 1187.2,1515.9 C1188.9,1515.9 1190.6,1515.9 1192.2,1515.9 C1193.9,1515.9 1195.6,1515.9 1197.3,1515.9 C1198.9,1515.9 1200.6,1515.9 1202.3,1515.9 C1204.0,1515.9 1205.6,1515.9 1207.3,1515.9 C1209.0,1515.9 1210.6,1515.9 1212.3,1515.9 C1214.0,1515.9 1215.7,1515.9 1217.3,1515.9 C1219.0,1515.9 1220.7,1515.9 1222.4,1515.9 C1224.0,1515.9 1225.7,1515.9 1227.4,1515.9 C1229.1,1516.0 1230.7,1516.0 1232.4,1516.0 C1234.1,1516.0 1235.7,1516.0 1237.4,1516.0 C1239.1,1516.0 1240.8,1516.0 1242.4,1516.0 C1244.1,1516.0 1245.8,1516.0 1247.5,1516.0 C1249.1,1516.0 1250.8,1516.0 1252.5,1516.0 C1254.2,1516.0 1255.8,1516.0 1257.5,1516.1 C1259.2,1516.1 1260.8,1516.1 1262.5,1516.1 C1264.2,1516.1 1265.9,1516.1 1267.5,1516.1 C1269.2,1516.1 1271.7,1516.1 1272.6,1516.1" fill="none" stroke="#EA7524" stroke-width="7.6" stroke-linecap="round" stroke-linejoin="round"/>
</g>
<line x1="827.0" y1="1119.0" x2="934.6" y2="1119.0" stroke="#386AC6" stroke-width="7.6" stroke-linecap="round"/>
<line x1="827.0" y1="1200.8" x2="934.6" y2="1200.8" stroke="#EA7524" stroke-width="7.6" stroke-linecap="round"/>
<text x="68.01" y="51.00" font-size="49" font-weight="normal" textLength="51.29" lengthAdjust="spacingAndGlyphs">20</text>
<text x="71.40" y="173.00" font-size="49" font-weight="normal" textLength="46.49" lengthAdjust="spacingAndGlyphs">15</text>
<text x="71.73" y="292.30" font-size="49" font-weight="normal" textLength="47.40" lengthAdjust="spacingAndGlyphs">10</text>
<text x="98.27" y="414.60" font-size="49" font-weight="normal" textLength="20.70" lengthAdjust="spacingAndGlyphs">5</text>
<text x="97.62" y="533.10" font-size="49" font-weight="normal" textLength="22.98" lengthAdjust="spacingAndGlyphs">0</text>
<text x="80.70" y="655.80" font-size="49" font-weight="normal" textLength="38.73" lengthAdjust="spacingAndGlyphs">-5</text>
<text x="52.58" y="775.00" font-size="49" font-weight="normal" textLength="69.18" lengthAdjust="spacingAndGlyphs">-10</text>
<text x="52.62" y="896.00" font-size="49" font-weight="normal" textLength="67.79" lengthAdjust="spacingAndGlyphs">-15</text>
<text x="127.71" y="594.20" font-size="49" font-weight="normal" textLength="76.86" lengthAdjust="spacingAndGlyphs">200</text>
<text x="360.65" y="594.20" font-size="49" font-weight="normal" textLength="76.86" lengthAdjust="spacingAndGlyphs">240</text>
<text x="593.59" y="594.20" font-size="49" font-weight="normal" textLength="76.86" lengthAdjust="spacingAndGlyphs">280</text>
<text x="826.53" y="594.20" font-size="49" font-weight="normal" textLength="76.86" lengthAdjust="spacingAndGlyphs">320</text>
<text x="1059.47" y="594.20" font-size="49" font-weight="normal" textLength="76.86" lengthAdjust="spacingAndGlyphs">360</text>
<text x="1293.47" y="594.20" font-size="49" font-weight="normal" textLength="75.78" lengthAdjust="spacingAndGlyphs">400</text>
<text x="570.10" y="904.70" font-size="49" font-weight="normal" textLength="359.18" lengthAdjust="spacingAndGlyphs">Wavelength&#160;&#160;(nm)</text>
<text x="937.64" y="128.30" font-size="49" font-weight="bold" textLength="121.16" lengthAdjust="spacingAndGlyphs">Exptl</text>
<text x="1071.87" y="128.30" font-size="49" font-weight="bold" textLength="119.10" lengthAdjust="spacingAndGlyphs">CD-1</text>
<text x="937.87" y="200.60" font-size="49" font-weight="bold" textLength="124.44" lengthAdjust="spacingAndGlyphs">Calcd</text>
<text x="1081.86" y="200.60" font-size="49" font-weight="bold" textLength="150.42" lengthAdjust="spacingAndGlyphs">ECD-1</text>
<text transform="rotate(-90)" x="-708.28" y="57.50" font-size="51" font-weight="normal" textLength="32.46" lengthAdjust="spacingAndGlyphs">&#916;</text>
<text transform="rotate(-90)" x="-674.20" y="57.50" font-size="51" font-weight="normal" textLength="20.35" lengthAdjust="spacingAndGlyphs">&#949;</text>
<text transform="rotate(-90)" x="-641.02" y="57.50" font-size="51" font-weight="normal" textLength="91.76" lengthAdjust="spacingAndGlyphs">(deg</text>
<text transform="rotate(-90)" x="-535.76" y="57.50" font-size="51" font-weight="normal" textLength="67.06" lengthAdjust="spacingAndGlyphs">dm</text>
<text transform="rotate(-90)" x="-470.78" y="38.50" font-size="33" font-weight="normal" textLength="15.48" lengthAdjust="spacingAndGlyphs">3</text>
<text transform="rotate(-90)" x="-438.49" y="57.50" font-size="51" font-weight="normal" textLength="78.33" lengthAdjust="spacingAndGlyphs">mol</text>
<text transform="rotate(-90)" x="-361.31" y="40.00" font-size="33" font-weight="normal" textLength="22.33" lengthAdjust="spacingAndGlyphs">-1</text>
<text transform="rotate(-90)" x="-314.93" y="57.50" font-size="51" font-weight="normal" textLength="63.25" lengthAdjust="spacingAndGlyphs">cm</text>
<text transform="rotate(-90)" x="-250.27" y="40.00" font-size="33" font-weight="normal" textLength="21.12" lengthAdjust="spacingAndGlyphs">-1</text>
<text transform="rotate(-90)" x="-224.17" y="57.50" font-size="51" font-weight="normal" textLength="18.42" lengthAdjust="spacingAndGlyphs">)</text>
<text x="131.89" y="974.92" font-size="49" font-weight="normal" textLength="49.33" lengthAdjust="spacingAndGlyphs">60</text>
<text x="130.81" y="1067.95" font-size="49" font-weight="normal" textLength="50.45" lengthAdjust="spacingAndGlyphs">50</text>
<text x="132.92" y="1160.98" font-size="49" font-weight="normal" textLength="48.25" lengthAdjust="spacingAndGlyphs">40</text>
<text x="131.89" y="1254.01" font-size="49" font-weight="normal" textLength="49.33" lengthAdjust="spacingAndGlyphs">30</text>
<text x="131.89" y="1347.04" font-size="49" font-weight="normal" textLength="49.33" lengthAdjust="spacingAndGlyphs">20</text>
<text x="135.48" y="1440.07" font-size="49" font-weight="normal" textLength="45.58" lengthAdjust="spacingAndGlyphs">10</text>
<text x="157.19" y="1533.10" font-size="49" font-weight="normal" textLength="23.45" lengthAdjust="spacingAndGlyphs">0</text>
<text x="112.90" y="1623.70" font-size="49" font-weight="normal" textLength="68.76" lengthAdjust="spacingAndGlyphs">-10</text>
<text x="112.90" y="1716.60" font-size="49" font-weight="normal" textLength="68.76" lengthAdjust="spacingAndGlyphs">-20</text>
<text x="112.90" y="1809.60" font-size="49" font-weight="normal" textLength="68.76" lengthAdjust="spacingAndGlyphs">-30</text>
<text x="112.90" y="1902.50" font-size="49" font-weight="normal" textLength="68.76" lengthAdjust="spacingAndGlyphs">-40</text>
<text x="185.96" y="1592.50" font-size="49" font-weight="normal" textLength="76.86" lengthAdjust="spacingAndGlyphs">200</text>
<text x="399.01" y="1592.50" font-size="49" font-weight="normal" textLength="76.86" lengthAdjust="spacingAndGlyphs">240</text>
<text x="612.06" y="1592.50" font-size="49" font-weight="normal" textLength="76.86" lengthAdjust="spacingAndGlyphs">280</text>
<text x="825.11" y="1592.50" font-size="49" font-weight="normal" textLength="76.86" lengthAdjust="spacingAndGlyphs">320</text>
<text x="1038.17" y="1592.50" font-size="49" font-weight="normal" textLength="76.86" lengthAdjust="spacingAndGlyphs">360</text>
<text x="1252.28" y="1592.50" font-size="49" font-weight="normal" textLength="75.78" lengthAdjust="spacingAndGlyphs">400</text>
<text x="579.30" y="1945.20" font-size="49" font-weight="normal" textLength="353.45" lengthAdjust="spacingAndGlyphs">Wavelength&#160;&#160;(nm)</text>
<text x="947.95" y="1133.20" font-size="49" font-weight="bold" textLength="119.74" lengthAdjust="spacingAndGlyphs">Exptl</text>
<text x="1079.58" y="1133.20" font-size="49" font-weight="bold" textLength="118.31" lengthAdjust="spacingAndGlyphs">CD-2</text>
<text x="948.60" y="1217.70" font-size="49" font-weight="bold" textLength="122.50" lengthAdjust="spacingAndGlyphs">Calcd</text>
<text x="1090.77" y="1217.70" font-size="49" font-weight="bold" textLength="149.19" lengthAdjust="spacingAndGlyphs">ECD-2</text>
<text transform="rotate(-90)" x="-1670.28" y="98.10" font-size="51" font-weight="normal" textLength="32.46" lengthAdjust="spacingAndGlyphs">&#916;</text>
<text transform="rotate(-90)" x="-1636.20" y="98.10" font-size="51" font-weight="normal" textLength="20.35" lengthAdjust="spacingAndGlyphs">&#949;</text>
<text transform="rotate(-90)" x="-1603.03" y="98.10" font-size="51" font-weight="normal" textLength="91.76" lengthAdjust="spacingAndGlyphs">(deg</text>
<text transform="rotate(-90)" x="-1497.76" y="98.10" font-size="51" font-weight="normal" textLength="67.06" lengthAdjust="spacingAndGlyphs">dm</text>
<text transform="rotate(-90)" x="-1432.78" y="79.10" font-size="33" font-weight="normal" textLength="15.48" lengthAdjust="spacingAndGlyphs">3</text>
<text transform="rotate(-90)" x="-1400.49" y="98.10" font-size="51" font-weight="normal" textLength="78.33" lengthAdjust="spacingAndGlyphs">mol</text>
<text transform="rotate(-90)" x="-1323.31" y="80.60" font-size="33" font-weight="normal" textLength="22.33" lengthAdjust="spacingAndGlyphs">-1</text>
<text transform="rotate(-90)" x="-1276.93" y="98.10" font-size="51" font-weight="normal" textLength="63.25" lengthAdjust="spacingAndGlyphs">cm</text>
<text transform="rotate(-90)" x="-1212.27" y="80.60" font-size="33" font-weight="normal" textLength="21.12" lengthAdjust="spacingAndGlyphs">-1</text>
<text transform="rotate(-90)" x="-1186.17" y="98.10" font-size="51" font-weight="normal" textLength="18.42" lengthAdjust="spacingAndGlyphs">)</text>
</g>
</svg>
</body></html>
